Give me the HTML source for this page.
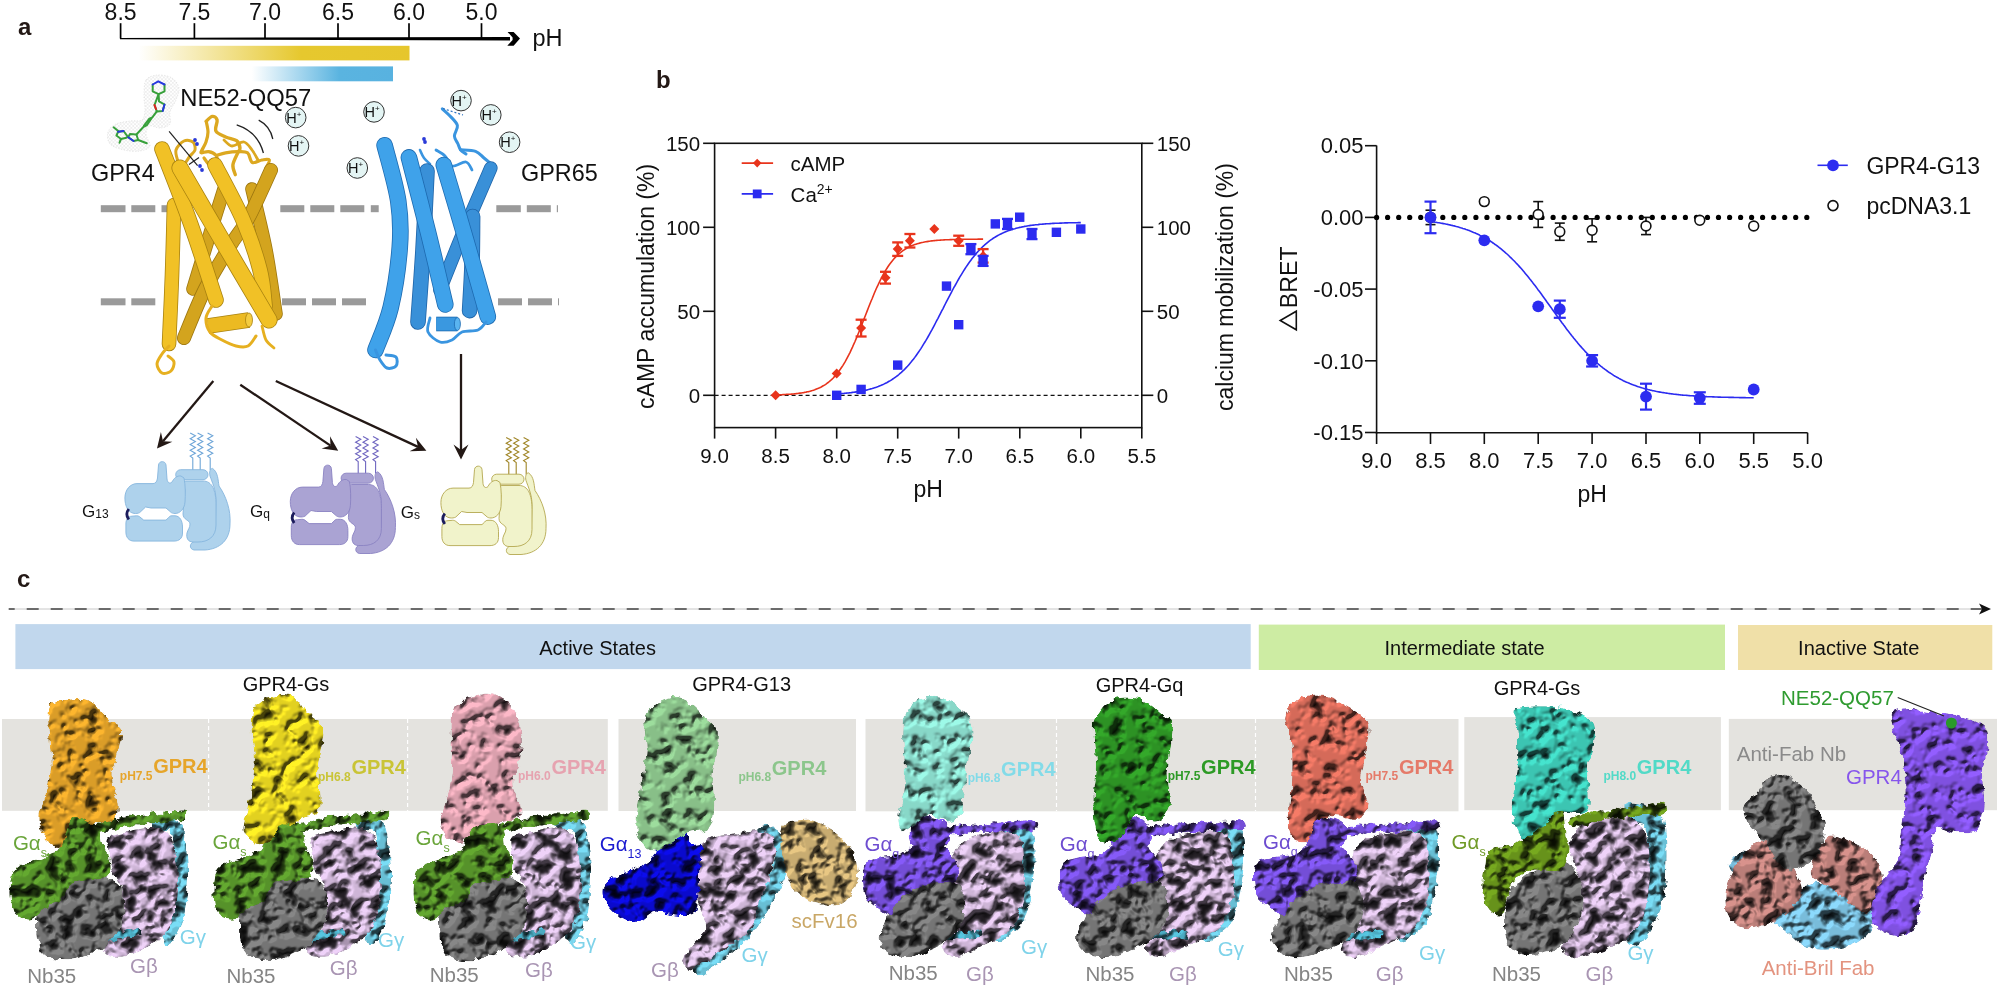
<!DOCTYPE html><html><head><meta charset="utf-8"><style>html,body{margin:0;padding:0;background:#fff;width:2000px;height:989px;overflow:hidden}svg{display:block;will-change:transform}text{font-family:"Liberation Sans",sans-serif}</style></head><body><svg width="2000" height="989" viewBox="0 0 2000 989"><defs><linearGradient id="gy" x1="0" x2="1" y1="0" y2="0"><stop offset="0" stop-color="#fff"/><stop offset="0.6" stop-color="#e6c82e"/><stop offset="1" stop-color="#e6c62c"/></linearGradient><linearGradient id="gb" x1="0" x2="1" y1="0" y2="0"><stop offset="0" stop-color="#fff"/><stop offset="0.62" stop-color="#5ab4e0"/><stop offset="1" stop-color="#58b2e0"/></linearGradient><marker id="ah" viewBox="0 0 10 10" refX="9" refY="5" markerWidth="6" markerHeight="6" orient="auto"><path d="M0,0 L10,5 L0,10 L3,5 Z" fill="#111"/></marker><filter id="tex" x="-10%" y="-10%" width="120%" height="120%" color-interpolation-filters="sRGB"><feTurbulence type="fractalNoise" baseFrequency="0.14" numOctaves="2" seed="3" result="n"/><feDisplacementMap in="SourceGraphic" in2="n" scale="7" xChannelSelector="R" yChannelSelector="G" result="d"/><feTurbulence type="fractalNoise" baseFrequency="0.08" numOctaves="3" seed="11" result="b"/><feComponentTransfer in="b" result="bt"><feFuncA type="discrete" tableValues="0 0 0.15 0.7 1 1 1 1"/></feComponentTransfer><feGaussianBlur in="bt" stdDeviation="1.2" result="bb"/><feDiffuseLighting in="bb" surfaceScale="6" diffuseConstant="1.15" lighting-color="#fff" result="L"><feDistantLight azimuth="235" elevation="45"/></feDiffuseLighting><feComposite in="d" in2="L" operator="arithmetic" k1="0.8" k2="0.3" k3="0" k4="0" result="lit"/><feColorMatrix in="bb" type="matrix" values="0 0 0 0 0  0 0 0 0 0  0 0 0 0 0  0 0 0 -1.6 0.9" result="holes"/><feComposite in="holes" in2="d" operator="in" result="hm"/><feComposite in="lit" in2="d" operator="in" result="lit2"/><feMerge><feMergeNode in="lit2"/><feMergeNode in="hm"/></feMerge></filter><filter id="texl" x="-10%" y="-10%" width="120%" height="120%" color-interpolation-filters="sRGB"><feTurbulence type="fractalNoise" baseFrequency="0.14" numOctaves="2" seed="3" result="n"/><feDisplacementMap in="SourceGraphic" in2="n" scale="7" xChannelSelector="R" yChannelSelector="G" result="d"/><feTurbulence type="fractalNoise" baseFrequency="0.08" numOctaves="3" seed="13" result="b"/><feComponentTransfer in="b" result="bt"><feFuncA type="discrete" tableValues="0 0.1 0.45 0.9 1 1 1 1"/></feComponentTransfer><feGaussianBlur in="bt" stdDeviation="1.2" result="bb"/><feDiffuseLighting in="bb" surfaceScale="6" diffuseConstant="1.15" lighting-color="#fff" result="L"><feDistantLight azimuth="235" elevation="45"/></feDiffuseLighting><feComposite in="d" in2="L" operator="arithmetic" k1="0.8" k2="0.3" k3="0" k4="0" result="lit"/><feColorMatrix in="bb" type="matrix" values="0 0 0 0 0  0 0 0 0 0  0 0 0 0 0  0 0 0 -1.6 0.9" result="holes"/><feComposite in="holes" in2="d" operator="in" result="hm"/><feComposite in="lit" in2="d" operator="in" result="lit2"/><feMerge><feMergeNode in="lit2"/><feMergeNode in="hm"/></feMerge></filter><filter id="texd" x="-10%" y="-10%" width="120%" height="120%" color-interpolation-filters="sRGB"><feTurbulence type="fractalNoise" baseFrequency="0.14" numOctaves="2" seed="3" result="n"/><feDisplacementMap in="SourceGraphic" in2="n" scale="7" xChannelSelector="R" yChannelSelector="G" result="d"/><feTurbulence type="fractalNoise" baseFrequency="0.08" numOctaves="3" seed="12" result="b"/><feComponentTransfer in="b" result="bt"><feFuncA type="discrete" tableValues="0 0 0.05 0.45 0.9 1 1 1"/></feComponentTransfer><feGaussianBlur in="bt" stdDeviation="1.2" result="bb"/><feDiffuseLighting in="bb" surfaceScale="6" diffuseConstant="1.15" lighting-color="#fff" result="L"><feDistantLight azimuth="235" elevation="45"/></feDiffuseLighting><feComposite in="d" in2="L" operator="arithmetic" k1="0.8" k2="0.3" k3="0" k4="0" result="lit"/><feColorMatrix in="bb" type="matrix" values="0 0 0 0 0  0 0 0 0 0  0 0 0 0 0  0 0 0 -1.6 0.9" result="holes"/><feComposite in="holes" in2="d" operator="in" result="hm"/><feComposite in="lit" in2="d" operator="in" result="lit2"/><feMerge><feMergeNode in="lit2"/><feMergeNode in="hm"/></feMerge></filter></defs><text x="18.0" y="35.0" font-size="24" text-anchor="start" fill="#231815" font-weight="bold" >a</text><path d="M120,37.9 L510,36.9 L510,40.4 L120,39.3 Z" fill="#000"/><path d="M507.6,31.9 L513.6,31.9 L520,38.6 L513.6,45.7 L507.3,45.7 L512.6,39.9 L512.6,37.6 Z" fill="#000"/><line x1="120.6" y1="23.2" x2="120.6" y2="38.5" stroke="#000" stroke-width="1.7" /><text x="120.6" y="19.6" font-size="23" text-anchor="middle" fill="#111" font-weight="normal" >8.5</text><line x1="194.4" y1="23.2" x2="194.4" y2="38.5" stroke="#000" stroke-width="1.7" /><text x="194.4" y="19.6" font-size="23" text-anchor="middle" fill="#111" font-weight="normal" >7.5</text><line x1="265.0" y1="23.2" x2="265.0" y2="38.5" stroke="#000" stroke-width="1.7" /><text x="265.0" y="19.6" font-size="23" text-anchor="middle" fill="#111" font-weight="normal" >7.0</text><line x1="338.0" y1="23.2" x2="338.0" y2="38.5" stroke="#000" stroke-width="1.7" /><text x="338.0" y="19.6" font-size="23" text-anchor="middle" fill="#111" font-weight="normal" >6.5</text><line x1="409.0" y1="23.2" x2="409.0" y2="38.5" stroke="#000" stroke-width="1.7" /><text x="409.0" y="19.6" font-size="23" text-anchor="middle" fill="#111" font-weight="normal" >6.0</text><line x1="481.5" y1="23.2" x2="481.5" y2="38.5" stroke="#000" stroke-width="1.7" /><text x="481.5" y="19.6" font-size="23" text-anchor="middle" fill="#111" font-weight="normal" >5.0</text><text x="532.5" y="45.7" font-size="23.5" text-anchor="start" fill="#111" font-weight="normal" >pH</text><rect x="138.5" y="45.8" width="271" height="14.6" fill="url(#gy)"/><rect x="251.8" y="66.4" width="141.2" height="14.9" fill="url(#gb)"/><rect x="100.8" y="205.2" width="24.7" height="7" fill="#9a9a9a"/><rect x="131.3" y="205.2" width="24.0" height="7" fill="#9a9a9a"/><rect x="161.5" y="205.2" width="7.7" height="7" fill="#9a9a9a"/><rect x="280.3" y="205.2" width="24.0" height="7" fill="#9a9a9a"/><rect x="310.3" y="205.2" width="24.0" height="7" fill="#9a9a9a"/><rect x="340.3" y="205.2" width="24.0" height="7" fill="#9a9a9a"/><rect x="370.8" y="205.2" width="7.9" height="7" fill="#9a9a9a"/><rect x="496.3" y="205.2" width="24.5" height="7" fill="#9a9a9a"/><rect x="526.8" y="205.2" width="24.0" height="7" fill="#9a9a9a"/><rect x="556.8" y="205.2" width="1.2" height="7" fill="#9a9a9a"/><rect x="100.8" y="298.3" width="24.7" height="7" fill="#9a9a9a"/><rect x="131.3" y="298.3" width="24.0" height="7" fill="#9a9a9a"/><rect x="282" y="298.3" width="24.0" height="7" fill="#9a9a9a"/><rect x="312" y="298.3" width="24.0" height="7" fill="#9a9a9a"/><rect x="342" y="298.3" width="24.0" height="7" fill="#9a9a9a"/><rect x="498" y="298.3" width="24.0" height="7" fill="#9a9a9a"/><rect x="528" y="298.3" width="24.0" height="7" fill="#9a9a9a"/><rect x="558" y="298.3" width="1.0" height="7" fill="#9a9a9a"/><path d="M178.0,162.0 C177.7,160.0 175.0,153.5 176.0,150.0 C177.0,146.5 181.2,142.3 184.0,141.0 C186.8,139.7 191.2,140.5 193.0,142.0 C194.8,143.5 195.5,147.7 195.0,150.0 C194.5,152.3 191.5,154.0 190.0,156.0 C188.5,158.0 186.7,161.0 186.0,162.0" fill="none" stroke="#dca820" stroke-width="3" stroke-linecap="round" stroke-linejoin="round"/><path d="M206.2,121.3 C207.2,120.5 210.5,116.6 212.3,116.4 C214.1,116.2 216.5,117.6 217.1,120.0 C217.7,122.4 214.5,128.2 215.9,131.0 C217.3,133.8 222.2,135.4 225.6,137.0 C229.0,138.6 234.2,138.9 236.6,140.7 C239.0,142.5 239.8,146.0 240.0,148.0 C240.2,150.0 239.0,150.0 237.8,152.8 C236.6,155.6 233.3,161.3 232.9,165.0 C232.5,168.7 234.9,173.1 235.3,174.7" fill="none" stroke="#dca820" stroke-width="3.4" stroke-linecap="round" stroke-linejoin="round"/><path d="M206.2,121.3 C206.5,123.1 208.0,128.6 208.0,132.0 C208.0,135.4 207.0,139.0 206.0,142.0 C205.0,145.0 202.8,148.2 202.0,150.0 C201.2,151.8 200.3,152.5 201.4,152.8 C202.5,153.1 206.2,151.2 208.6,151.6 C211.0,152.0 214.5,153.4 215.9,155.2 C217.3,157.0 218.1,160.9 217.1,162.5 C216.1,164.1 212.2,165.8 210.0,165.0 C207.8,164.2 205.0,159.2 204.0,158.0" fill="none" stroke="#dca820" stroke-width="3.2" stroke-linecap="round" stroke-linejoin="round"/><path d="M217.1,155.2 C218.5,154.8 222.1,153.4 225.6,152.8 C229.1,152.2 234.2,151.6 237.8,151.6 C241.5,151.6 245.1,151.0 247.5,152.8 C249.9,154.6 249.9,161.3 252.3,162.5 C254.7,163.7 259.2,160.4 262.0,160.0 C264.8,159.6 268.6,158.7 269.3,160.0 C270.0,161.3 266.6,166.7 266.0,168.0" fill="none" stroke="#dca820" stroke-width="3.2" stroke-linecap="round" stroke-linejoin="round"/><path d="M224.0,140.0 C225.3,141.0 228.7,145.7 232.0,146.0 C235.3,146.3 240.7,141.3 244.0,142.0 C247.3,142.7 249.7,147.0 252.0,150.0 C254.3,153.0 257.0,158.3 258.0,160.0" fill="none" stroke="#dca820" stroke-width="2.8" stroke-linecap="round" stroke-linejoin="round"/><path d="M224.0,189.0 C221.3,197.5 213.2,223.3 208.0,240.0 C202.8,256.7 195.5,280.8 193.0,289.0" fill="none" stroke="#9c7610" stroke-width="13.6" stroke-linecap="round" stroke-linejoin="round"/><path d="M224.0,189.0 C221.3,197.5 213.2,223.3 208.0,240.0 C202.8,256.7 195.5,280.8 193.0,289.0" fill="none" stroke="#d3a41e" stroke-width="12" stroke-linecap="round" stroke-linejoin="round"/><path d="M252.0,189.0 C254.3,199.2 262.0,229.2 266.0,250.0 C270.0,270.8 274.3,303.3 276.0,314.0" fill="none" stroke="#9c7610" stroke-width="13.6" stroke-linecap="round" stroke-linejoin="round"/><path d="M252.0,189.0 C254.3,199.2 262.0,229.2 266.0,250.0 C270.0,270.8 274.3,303.3 276.0,314.0" fill="none" stroke="#d3a41e" stroke-width="12" stroke-linecap="round" stroke-linejoin="round"/><path d="M271.0,170.0 C267.3,177.8 255.8,204.3 249.0,217.0 C242.2,229.7 237.3,234.0 230.0,246.0 C222.7,258.0 212.7,273.7 205.0,289.0 C197.3,304.3 187.5,329.8 184.0,338.0" fill="none" stroke="#9c7610" stroke-width="14.1" stroke-linecap="round" stroke-linejoin="round"/><path d="M271.0,170.0 C267.3,177.8 255.8,204.3 249.0,217.0 C242.2,229.7 237.3,234.0 230.0,246.0 C222.7,258.0 212.7,273.7 205.0,289.0 C197.3,304.3 187.5,329.8 184.0,338.0" fill="none" stroke="#d3a41e" stroke-width="12.5" stroke-linecap="round" stroke-linejoin="round"/><path d="M174.0,205.0 C173.7,216.7 172.8,251.8 172.0,275.0 C171.2,298.2 169.5,332.5 169.0,344.0" fill="none" stroke="#a88210" stroke-width="14.6" stroke-linecap="round" stroke-linejoin="round"/><path d="M174.0,205.0 C173.7,216.7 172.8,251.8 172.0,275.0 C171.2,298.2 169.5,332.5 169.0,344.0" fill="none" stroke="#f1c126" stroke-width="13" stroke-linecap="round" stroke-linejoin="round"/><path d="M162.0,149.0 C166.7,161.2 181.0,196.8 190.0,222.0 C199.0,247.2 211.7,287.0 216.0,300.0" fill="none" stroke="#a88210" stroke-width="15.6" stroke-linecap="round" stroke-linejoin="round"/><path d="M162.0,149.0 C166.7,161.2 181.0,196.8 190.0,222.0 C199.0,247.2 211.7,287.0 216.0,300.0" fill="none" stroke="#f1c126" stroke-width="14" stroke-linecap="round" stroke-linejoin="round"/><path d="M215.0,165.0 C219.7,174.2 235.5,202.5 243.0,220.0 C250.5,237.5 256.3,255.7 260.0,270.0 C263.7,284.3 264.2,300.0 265.0,306.0" fill="none" stroke="#a88210" stroke-width="15.6" stroke-linecap="round" stroke-linejoin="round"/><path d="M215.0,165.0 C219.7,174.2 235.5,202.5 243.0,220.0 C250.5,237.5 256.3,255.7 260.0,270.0 C263.7,284.3 264.2,300.0 265.0,306.0" fill="none" stroke="#f1c126" stroke-width="14" stroke-linecap="round" stroke-linejoin="round"/><path d="M180.0,168.0 C187.7,181.2 211.2,221.7 226.0,247.0 C240.8,272.3 261.8,307.8 269.0,320.0" fill="none" stroke="#a88210" stroke-width="17.1" stroke-linecap="round" stroke-linejoin="round"/><path d="M180.0,168.0 C187.7,181.2 211.2,221.7 226.0,247.0 C240.8,272.3 261.8,307.8 269.0,320.0" fill="none" stroke="#f1c126" stroke-width="15.5" stroke-linecap="round" stroke-linejoin="round"/><path d="M208.0,326.0 L249.0,320.0" fill="none" stroke="#a88210" stroke-width="15.6" stroke-linecap="butt" stroke-linejoin="round"/><path d="M208.0,326.0 L249.0,320.0" fill="none" stroke="#ecba22" stroke-width="14" stroke-linecap="butt" stroke-linejoin="round"/><ellipse cx="249" cy="320" rx="3.5" ry="7" fill="#f4cc40" stroke="#a88210" stroke-width="0.8"/><path d="M169.0,346.0 C167.8,347.3 164.0,351.0 162.0,354.0 C160.0,357.0 157.0,360.8 157.0,364.0 C157.0,367.2 159.7,371.8 162.0,373.0 C164.3,374.2 169.0,372.8 171.0,371.0 C173.0,369.2 174.5,364.5 174.0,362.0 C173.5,359.5 169.0,357.0 168.0,356.0" fill="none" stroke="#e6b020" stroke-width="3" stroke-linecap="round" stroke-linejoin="round"/><path d="M212.0,306.0 C211.0,308.0 206.3,313.7 206.0,318.0 C205.7,322.3 207.3,328.3 210.0,332.0 C212.7,335.7 217.7,337.7 222.0,340.0 C226.3,342.3 231.7,345.0 236.0,346.0 C240.3,347.0 244.7,347.7 248.0,346.0 C251.3,344.3 254.7,337.7 256.0,336.0" fill="none" stroke="#e6b020" stroke-width="3" stroke-linecap="round" stroke-linejoin="round"/><path d="M262.0,326.0 C262.7,328.3 264.0,336.3 266.0,340.0 C268.0,343.7 272.7,346.7 274.0,348.0" fill="none" stroke="#e6b020" stroke-width="2.8" stroke-linecap="round" stroke-linejoin="round"/><circle cx="195" cy="140" r="1.9" fill="#2a3ad8"/><circle cx="197" cy="144" r="1.9" fill="#2a3ad8"/><circle cx="200" cy="166" r="1.9" fill="#2a3ad8"/><circle cx="202" cy="170" r="1.9" fill="#2a3ad8"/><defs><pattern id="mesh" width="3.6" height="3.6" patternUnits="userSpaceOnUse"><path d="M0,0 L3.6,3.6 M3.6,0 L0,3.6" stroke="#d4d4d4" stroke-width="0.35"/></pattern></defs><path d="M146.0,80.0 C148.3,76.5 153.7,75.3 158.0,75.0 C162.3,74.7 168.5,75.8 172.0,78.0 C175.5,80.2 178.3,84.3 179.0,88.0 C179.7,91.7 177.5,96.0 176.0,100.0 C174.5,104.0 171.0,108.0 170.0,112.0 C169.0,116.0 171.7,121.3 170.0,124.0 C168.3,126.7 163.3,127.7 160.0,128.0 C156.7,128.3 152.3,125.0 150.0,126.0 C147.7,127.0 146.0,130.7 146.0,134.0 C146.0,137.3 151.0,143.2 150.0,146.0 C149.0,148.8 144.3,150.3 140.0,151.0 C135.7,151.7 129.0,151.2 124.0,150.0 C119.0,148.8 112.7,147.0 110.0,144.0 C107.3,141.0 107.0,135.3 108.0,132.0 C109.0,128.7 112.3,125.8 116.0,124.0 C119.7,122.2 125.7,121.7 130.0,121.0 C134.3,120.3 139.5,121.8 142.0,120.0 C144.5,118.2 144.7,114.0 145.0,110.0 C145.3,106.0 143.8,101.0 144.0,96.0 C144.2,91.0 143.7,83.5 146.0,80.0 Z" fill="url(#mesh)" stroke="#cfcfcf" stroke-width="0.5" stroke-dasharray="1.2,1.6"/><g fill="none" stroke="#37a03a" stroke-width="2" stroke-linejoin="round" stroke-linecap="round"><path d="M152.7,84.5 L152.7,91.4 L158.6,94.1 L164.5,91.4 L164.5,84.5"/><path d="M158.6,94.1 L159,101.4 L164.5,104.5 L162.7,110.9 L156.8,111.4 L154.5,105 Z"/><path d="M156.8,111.4 L152.3,117.3 L149,119 L144,125.5 L143.6,126.8 L147,125 L152.3,117.3 M143.6,126.8 L136.4,134.5"/><path d="M136.4,134.5 L138.2,140 L133.6,141 L128.2,137.3 L130,134 Z M128.2,137.3 L123.6,131 L118.2,131.8 L116.4,135.5 L121,139 L126.4,137.7"/><path d="M113.6,127.3 L118.2,131 M121,139 L119.5,142.7 M138.2,140 L146.8,143.2"/></g><g fill="none" stroke="#2838e0" stroke-width="2" stroke-linecap="round"><path d="M152.7,84.5 L158.2,81.4 L164.5,84.5"/><path d="M164.5,104.5 L162.7,110.9"/><path d="M133.6,141 L128.2,137.3"/><path d="M118.2,131.8 L123.6,131"/></g><path d="M154.5,105 L156,109" stroke="#e02020" stroke-width="2" stroke-linecap="round"/><line x1="169.1" y1="131.4" x2="197.6" y2="165.6" stroke="#222" stroke-width="1.2" /><line x1="189.0" y1="164.5" x2="199.0" y2="157.5" stroke="#222" stroke-width="1.2" /><path d="M236.7,124.9 Q258,132 263.4,153" fill="none" stroke="#222" stroke-width="1.3"/><path d="M258.7,120.2 Q270,126 272.8,139" fill="none" stroke="#222" stroke-width="1.3"/><path d="M442.3,108.8 C443.6,110.0 447.5,113.2 450.0,116.0 C452.5,118.8 456.7,122.2 457.4,125.5 C458.1,128.8 454.3,132.9 454.4,136.0 C454.5,139.1 457.0,141.7 458.0,144.0 C459.0,146.3 459.2,148.1 460.5,149.8 C461.8,151.5 465.1,153.3 466.0,154.0" fill="none" stroke="#3a95e0" stroke-width="3" stroke-linecap="round" stroke-linejoin="round"/><line x1="443" y1="108.5" x2="463" y2="115" stroke="#2a70c0" stroke-width="1.2" stroke-dasharray="2,2"/><path d="M460.5,149.8 C463.0,150.1 471.7,149.9 475.6,151.3 C479.5,152.7 481.2,155.7 484.0,158.0 C486.8,160.3 490.9,163.8 492.3,165.0" fill="none" stroke="#3a95e0" stroke-width="3" stroke-linecap="round" stroke-linejoin="round"/><path d="M436.0,150.0 C437.5,151.0 442.3,153.3 445.0,156.0 C447.7,158.7 448.5,165.0 452.0,166.0 C455.5,167.0 462.7,161.3 466.0,162.0 C469.3,162.7 471.0,168.7 472.0,170.0" fill="none" stroke="#3a95e0" stroke-width="2.8" stroke-linecap="round" stroke-linejoin="round"/><path d="M420.0,150.0 C420.7,151.3 422.3,155.7 424.0,158.0 C425.7,160.3 429.0,163.0 430.0,164.0" fill="none" stroke="#3a95e0" stroke-width="2.6" stroke-linecap="round" stroke-linejoin="round"/><path d="M427.0,171.0 C426.3,184.2 424.5,224.8 423.0,250.0 C421.5,275.2 418.8,310.0 418.0,322.0" fill="none" stroke="#1f64a8" stroke-width="15.6" stroke-linecap="round" stroke-linejoin="round"/><path d="M427.0,171.0 C426.3,184.2 424.5,224.8 423.0,250.0 C421.5,275.2 418.8,310.0 418.0,322.0" fill="none" stroke="#3990d8" stroke-width="14" stroke-linecap="round" stroke-linejoin="round"/><path d="M490.8,168.0 C486.2,178.6 472.0,211.4 463.5,231.7 C455.0,252.0 443.9,280.3 440.0,290.0" fill="none" stroke="#1f64a8" stroke-width="13.6" stroke-linecap="round" stroke-linejoin="round"/><path d="M490.8,168.0 C486.2,178.6 472.0,211.4 463.5,231.7 C455.0,252.0 443.9,280.3 440.0,290.0" fill="none" stroke="#3990d8" stroke-width="12" stroke-linecap="round" stroke-linejoin="round"/><path d="M472.6,216.5 C472.5,224.6 472.5,249.3 472.0,265.0 C471.5,280.7 470.0,303.0 469.6,310.6" fill="none" stroke="#1f64a8" stroke-width="15.6" stroke-linecap="round" stroke-linejoin="round"/><path d="M472.6,216.5 C472.5,224.6 472.5,249.3 472.0,265.0 C471.5,280.7 470.0,303.0 469.6,310.6" fill="none" stroke="#3990d8" stroke-width="14" stroke-linecap="round" stroke-linejoin="round"/><path d="M384.6,145.2 C386.9,154.6 395.8,184.4 398.3,201.4 C400.8,218.4 401.1,229.2 399.8,246.9 C398.5,264.6 394.8,290.3 390.7,307.5 C386.6,324.7 378.0,342.9 375.5,350.0" fill="none" stroke="#1d6ab0" stroke-width="16.6" stroke-linecap="round" stroke-linejoin="round"/><path d="M384.6,145.2 C386.9,154.6 395.8,184.4 398.3,201.4 C400.8,218.4 401.1,229.2 399.8,246.9 C398.5,264.6 394.8,290.3 390.7,307.5 C386.6,324.7 378.0,342.9 375.5,350.0" fill="none" stroke="#3fa2ea" stroke-width="15" stroke-linecap="round" stroke-linejoin="round"/><path d="M408.9,157.4 C412.1,169.8 421.9,207.5 428.0,232.0 C434.1,256.5 442.4,292.4 445.3,304.5" fill="none" stroke="#1d6ab0" stroke-width="16.6" stroke-linecap="round" stroke-linejoin="round"/><path d="M408.9,157.4 C412.1,169.8 421.9,207.5 428.0,232.0 C434.1,256.5 442.4,292.4 445.3,304.5" fill="none" stroke="#3fa2ea" stroke-width="15" stroke-linecap="round" stroke-linejoin="round"/><path d="M443.8,165.0 C447.5,177.5 458.7,214.7 466.0,240.0 C473.3,265.3 484.2,303.8 487.8,316.6" fill="none" stroke="#1d6ab0" stroke-width="16.6" stroke-linecap="round" stroke-linejoin="round"/><path d="M443.8,165.0 C447.5,177.5 458.7,214.7 466.0,240.0 C473.3,265.3 484.2,303.8 487.8,316.6" fill="none" stroke="#3fa2ea" stroke-width="15" stroke-linecap="round" stroke-linejoin="round"/><path d="M436.2,324.0 L457.4,324.0" fill="none" stroke="#1d6ab0" stroke-width="14.6" stroke-linecap="butt" stroke-linejoin="round"/><path d="M436.2,324.0 L457.4,324.0" fill="none" stroke="#3a98e0" stroke-width="13" stroke-linecap="butt" stroke-linejoin="round"/><ellipse cx="457.4" cy="324" rx="3" ry="6.5" fill="#5ab4f0" stroke="#1d6ab0" stroke-width="0.8"/><path d="M375.5,350.0 C376.2,351.7 378.1,357.0 380.0,360.0 C381.9,363.0 384.3,367.0 387.0,368.0 C389.7,369.0 394.5,367.8 396.0,366.0 C397.5,364.2 397.7,358.8 396.0,357.0 C394.3,355.2 387.7,355.3 386.0,355.0" fill="none" stroke="#3a95e0" stroke-width="3" stroke-linecap="round" stroke-linejoin="round"/><path d="M430.0,318.0 C429.7,320.3 426.3,328.0 428.0,332.0 C429.7,336.0 436.0,340.7 440.0,342.0 C444.0,343.3 448.3,341.7 452.0,340.0 C455.7,338.3 457.7,333.7 462.0,332.0 C466.3,330.3 474.0,331.7 478.0,330.0 C482.0,328.3 484.7,323.3 486.0,322.0" fill="none" stroke="#3a95e0" stroke-width="2.8" stroke-linecap="round" stroke-linejoin="round"/><circle cx="424" cy="139" r="1.9" fill="#2a3ad8"/><circle cx="425" cy="142" r="1.9" fill="#2a3ad8"/><circle cx="295.7" cy="117.6" r="10.3" fill="#e4f5f4" stroke="#333" stroke-width="1"/><text x="293.9" y="122.8" font-size="14.5" text-anchor="middle" fill="#111">H<tspan font-size="8" dy="-6">+</tspan></text><circle cx="298.5" cy="145.9" r="10.3" fill="#e4f5f4" stroke="#333" stroke-width="1"/><text x="296.7" y="151.1" font-size="14.5" text-anchor="middle" fill="#111">H<tspan font-size="8" dy="-6">+</tspan></text><circle cx="374" cy="111.9" r="10.3" fill="#e4f5f4" stroke="#333" stroke-width="1"/><text x="372.2" y="117.1" font-size="14.5" text-anchor="middle" fill="#111">H<tspan font-size="8" dy="-6">+</tspan></text><circle cx="357.3" cy="168" r="10.3" fill="#e4f5f4" stroke="#333" stroke-width="1"/><text x="355.5" y="173.2" font-size="14.5" text-anchor="middle" fill="#111">H<tspan font-size="8" dy="-6">+</tspan></text><circle cx="461" cy="100.6" r="10.3" fill="#e4f5f4" stroke="#333" stroke-width="1"/><text x="459.2" y="105.8" font-size="14.5" text-anchor="middle" fill="#111">H<tspan font-size="8" dy="-6">+</tspan></text><circle cx="490.8" cy="114.9" r="10.3" fill="#e4f5f4" stroke="#333" stroke-width="1"/><text x="489.0" y="120.1" font-size="14.5" text-anchor="middle" fill="#111">H<tspan font-size="8" dy="-6">+</tspan></text><circle cx="509.6" cy="142.2" r="10.3" fill="#e4f5f4" stroke="#333" stroke-width="1"/><text x="507.8" y="147.4" font-size="14.5" text-anchor="middle" fill="#111">H<tspan font-size="8" dy="-6">+</tspan></text><text x="91.0" y="181.3" font-size="23.4" text-anchor="start" fill="#111" font-weight="normal" >GPR4</text><text x="180.3" y="105.5" font-size="23.8" text-anchor="start" fill="#111" font-weight="normal" >NE52-QQ57</text><text x="521.0" y="180.7" font-size="23.4" text-anchor="start" fill="#111" font-weight="normal" >GPR65</text><line x1="213.3" y1="381.0" x2="163.0" y2="441.3" stroke="#231815" stroke-width="2.3" /><path d="M157.0,448.4 L160.9,432.1 L163.0,441.3 L172.4,441.7 Z" fill="#231815"/><line x1="240.3" y1="384.7" x2="330.5" y2="445.6" stroke="#231815" stroke-width="2.3" /><path d="M338.2,450.8 L321.6,448.6 L330.5,445.6 L330.0,436.2 Z" fill="#231815"/><line x1="275.8" y1="381.0" x2="418.0" y2="446.9" stroke="#231815" stroke-width="2.3" /><path d="M426.4,450.8 L409.6,451.3 L418.0,446.9 L415.9,437.7 Z" fill="#231815"/><line x1="461.0" y1="354.0" x2="461.0" y2="450.1" stroke="#231815" stroke-width="2.3" /><path d="M461.0,459.4 L453.5,444.4 L461.0,450.1 L468.5,444.4 Z" fill="#231815"/><polyline points="190.2,432.9 195.4,435.8 190.2,438.7 195.4,441.6 190.2,444.5 195.4,447.4 190.2,450.3 195.4,453.2 190.2,456.1 192.8,458.0 192.8,470.0" fill="none" stroke="#6fa6d8" stroke-width="1.1"/><polyline points="197.6,432.9 202.8,435.8 197.6,438.7 202.8,441.6 197.6,444.5 202.8,447.4 197.6,450.3 202.8,453.2 197.6,456.1 200.2,458.0 200.2,470.0" fill="none" stroke="#6fa6d8" stroke-width="1.1"/><polyline points="207.6,432.9 212.8,435.8 207.6,438.7 212.8,441.6 207.6,444.5 212.8,447.4 207.6,450.3 212.8,453.2 207.6,456.1 210.2,458.0 210.2,470.0" fill="none" stroke="#6fa6d8" stroke-width="1.1"/><path d="M212.5,468.4 C218.0,472.0 218.0,480.0 219.0,486.0 C226.0,496.0 231.0,510.0 230.0,524.0 C230.0,540.0 220.0,549.0 205.0,550.0 L194.0,550.0 C189.0,549.0 189.0,543.0 195.0,541.0 C206.0,539.0 214.0,533.0 215.5,520.0 L216.0,500.0 C216.0,490.0 212.0,482.0 210.0,476.0 C209.0,472.0 210.0,468.5 212.5,468.4 Z" fill="#aed2ec" stroke="#86b6de" stroke-width="0.9"/><path d="M186.0,481.0 L203.0,481.0 C212.0,481.0 216.0,490.0 216.0,505.0 L216.0,525.0 C216.0,537.0 208.0,542.0 198.0,542.0 L193.0,542.0 C188.0,542.0 186.0,538.0 187.0,533.0 C188.0,529.0 190.0,528.0 190.0,524.0 C190.0,520.0 183.0,520.0 183.0,514.0 L184.0,500.0 C184.0,494.0 186.0,491.0 184.0,487.0 C183.0,484.0 183.0,481.0 186.0,481.0 Z" fill="#aed2ec" stroke="#86b6de" stroke-width="0.9"/><rect x="175.7" y="469.7" width="32.3" height="10" rx="5" fill="#aed2ec" stroke="#86b6de" stroke-width="0.9"/><path d="M137.0,483.6 L153.0,483.6 C156.0,483.6 157.0,481.0 157.5,478.0 L158.5,465.0 C159.0,460.5 165.5,460.5 166.0,465.0 L167.0,479.0 C167.5,483.0 170.0,484.0 172.0,482.0 C174.0,478.0 177.0,475.5 181.0,476.0 L184.0,478.0 C185.5,485.0 185.5,495.0 185.0,502.0 C184.5,509.0 180.0,513.5 175.0,513.5 C173.0,513.5 172.0,513.0 171.3,512.6 L166.0,508.0 L151.0,508.0 L145.6,507.0 L139.7,512.6 C138.0,513.5 136.0,513.6 134.0,513.4 C128.0,512.5 124.9,506.0 124.9,498.0 C124.9,490.0 130.0,483.6 137.0,483.6 Z" fill="#aed2ec" stroke="#86b6de" stroke-width="0.9"/><path d="M132.0,516.2 L136.4,515.8 C138.0,515.8 139.0,516.2 139.7,516.8 L143.7,520.1 L166.0,520.1 L168.7,517.5 C169.5,516.3 170.5,515.8 172.0,515.8 L175.0,515.8 C180.0,516.0 182.5,521.0 182.5,527.0 L182.5,533.0 C182.5,538.5 179.0,541.1 174.0,541.1 L134.0,541.1 C129.0,541.1 125.9,537.5 125.9,532.0 L125.9,524.0 C125.9,519.0 128.0,516.2 132.0,516.2 Z" fill="#aed2ec" stroke="#86b6de" stroke-width="0.9"/><path d="M128.8,509.0 Q124.8,514.0 128.8,519.5" fill="none" stroke="#1c1c5c" stroke-width="2.8"/><polyline points="355.6,436.4 360.8,439.3 355.6,442.2 360.8,445.1 355.6,448.0 360.8,450.9 355.6,453.8 360.8,456.7 355.6,459.6 358.2,461.5 358.2,473.5" fill="none" stroke="#6f66c0" stroke-width="1.1"/><polyline points="363.0,436.4 368.2,439.3 363.0,442.2 368.2,445.1 363.0,448.0 368.2,450.9 363.0,453.8 368.2,456.7 363.0,459.6 365.6,461.5 365.6,473.5" fill="none" stroke="#6f66c0" stroke-width="1.1"/><polyline points="373.0,436.4 378.2,439.3 373.0,442.2 378.2,445.1 373.0,448.0 378.2,450.9 373.0,453.8 378.2,456.7 373.0,459.6 375.6,461.5 375.6,473.5" fill="none" stroke="#6f66c0" stroke-width="1.1"/><path d="M377.9,471.9 C383.4,475.5 383.4,483.5 384.4,489.5 C391.4,499.5 396.4,513.5 395.4,527.5 C395.4,543.5 385.4,552.5 370.4,553.5 L359.4,553.5 C354.4,552.5 354.4,546.5 360.4,544.5 C371.4,542.5 379.4,536.5 380.9,523.5 L381.4,503.5 C381.4,493.5 377.4,485.5 375.4,479.5 C374.4,475.5 375.4,472.0 377.9,471.9 Z" fill="#aaa3d3" stroke="#8a82c2" stroke-width="0.9"/><path d="M351.4,484.5 L368.4,484.5 C377.4,484.5 381.4,493.5 381.4,508.5 L381.4,528.5 C381.4,540.5 373.4,545.5 363.4,545.5 L358.4,545.5 C353.4,545.5 351.4,541.5 352.4,536.5 C353.4,532.5 355.4,531.5 355.4,527.5 C355.4,523.5 348.4,523.5 348.4,517.5 L349.4,503.5 C349.4,497.5 351.4,494.5 349.4,490.5 C348.4,487.5 348.4,484.5 351.4,484.5 Z" fill="#aaa3d3" stroke="#8a82c2" stroke-width="0.9"/><rect x="341.1" y="473.2" width="32.3" height="10" rx="5" fill="#aaa3d3" stroke="#8a82c2" stroke-width="0.9"/><path d="M302.4,487.1 L318.4,487.1 C321.4,487.1 322.4,484.5 322.9,481.5 L323.9,468.5 C324.4,464.0 330.9,464.0 331.4,468.5 L332.4,482.5 C332.9,486.5 335.4,487.5 337.4,485.5 C339.4,481.5 342.4,479.0 346.4,479.5 L349.4,481.5 C350.9,488.5 350.9,498.5 350.4,505.5 C349.9,512.5 345.4,517.0 340.4,517.0 C338.4,517.0 337.4,516.5 336.7,516.1 L331.4,511.5 L316.4,511.5 L311.0,510.5 L305.1,516.1 C303.4,517.0 301.4,517.1 299.4,516.9 C293.4,516.0 290.3,509.5 290.3,501.5 C290.3,493.5 295.4,487.1 302.4,487.1 Z" fill="#aaa3d3" stroke="#8a82c2" stroke-width="0.9"/><path d="M297.4,519.7 L301.8,519.3 C303.4,519.3 304.4,519.7 305.1,520.3 L309.1,523.6 L331.4,523.6 L334.1,521.0 C334.9,519.8 335.9,519.3 337.4,519.3 L340.4,519.3 C345.4,519.5 347.9,524.5 347.9,530.5 L347.9,536.5 C347.9,542.0 344.4,544.6 339.4,544.6 L299.4,544.6 C294.4,544.6 291.3,541.0 291.3,535.5 L291.3,527.5 C291.3,522.5 293.4,519.7 297.4,519.7 Z" fill="#aaa3d3" stroke="#8a82c2" stroke-width="0.9"/><path d="M294.2,512.5 Q290.2,517.5 294.2,523.0" fill="none" stroke="#1c1c5c" stroke-width="2.8"/><polyline points="506.2,437.4 511.4,440.3 506.2,443.2 511.4,446.1 506.2,449.0 511.4,451.9 506.2,454.8 511.4,457.7 506.2,460.6 508.8,462.5 508.8,474.5" fill="none" stroke="#a08628" stroke-width="1.1"/><polyline points="513.6,437.4 518.8,440.3 513.6,443.2 518.8,446.1 513.6,449.0 518.8,451.9 513.6,454.8 518.8,457.7 513.6,460.6 516.2,462.5 516.2,474.5" fill="none" stroke="#a08628" stroke-width="1.1"/><polyline points="523.6,437.4 528.8,440.3 523.6,443.2 528.8,446.1 523.6,449.0 528.8,451.9 523.6,454.8 528.8,457.7 523.6,460.6 526.2,462.5 526.2,474.5" fill="none" stroke="#a08628" stroke-width="1.1"/><path d="M528.5,472.9 C534.0,476.5 534.0,484.5 535.0,490.5 C542.0,500.5 547.0,514.5 546.0,528.5 C546.0,544.5 536.0,553.5 521.0,554.5 L510.0,554.5 C505.0,553.5 505.0,547.5 511.0,545.5 C522.0,543.5 530.0,537.5 531.5,524.5 L532.0,504.5 C532.0,494.5 528.0,486.5 526.0,480.5 C525.0,476.5 526.0,473.0 528.5,472.9 Z" fill="#f1f3cb" stroke="#b4a850" stroke-width="0.9"/><path d="M502.0,485.5 L519.0,485.5 C528.0,485.5 532.0,494.5 532.0,509.5 L532.0,529.5 C532.0,541.5 524.0,546.5 514.0,546.5 L509.0,546.5 C504.0,546.5 502.0,542.5 503.0,537.5 C504.0,533.5 506.0,532.5 506.0,528.5 C506.0,524.5 499.0,524.5 499.0,518.5 L500.0,504.5 C500.0,498.5 502.0,495.5 500.0,491.5 C499.0,488.5 499.0,485.5 502.0,485.5 Z" fill="#f1f3cb" stroke="#b4a850" stroke-width="0.9"/><rect x="491.7" y="474.2" width="32.3" height="10" rx="5" fill="#f1f3cb" stroke="#b4a850" stroke-width="0.9"/><path d="M453.0,488.1 L469.0,488.1 C472.0,488.1 473.0,485.5 473.5,482.5 L474.5,469.5 C475.0,465.0 481.5,465.0 482.0,469.5 L483.0,483.5 C483.5,487.5 486.0,488.5 488.0,486.5 C490.0,482.5 493.0,480.0 497.0,480.5 L500.0,482.5 C501.5,489.5 501.5,499.5 501.0,506.5 C500.5,513.5 496.0,518.0 491.0,518.0 C489.0,518.0 488.0,517.5 487.3,517.1 L482.0,512.5 L467.0,512.5 L461.6,511.5 L455.7,517.1 C454.0,518.0 452.0,518.1 450.0,517.9 C444.0,517.0 440.9,510.5 440.9,502.5 C440.9,494.5 446.0,488.1 453.0,488.1 Z" fill="#f1f3cb" stroke="#b4a850" stroke-width="0.9"/><path d="M448.0,520.7 L452.4,520.3 C454.0,520.3 455.0,520.7 455.7,521.3 L459.7,524.6 L482.0,524.6 L484.7,522.0 C485.5,520.8 486.5,520.3 488.0,520.3 L491.0,520.3 C496.0,520.5 498.5,525.5 498.5,531.5 L498.5,537.5 C498.5,543.0 495.0,545.6 490.0,545.6 L450.0,545.6 C445.0,545.6 441.9,542.0 441.9,536.5 L441.9,528.5 C441.9,523.5 444.0,520.7 448.0,520.7 Z" fill="#f1f3cb" stroke="#b4a850" stroke-width="0.9"/><path d="M444.8,513.5 Q440.8,518.5 444.8,524.0" fill="none" stroke="#1c1c5c" stroke-width="2.8"/><text x="82" y="516.5" font-size="17" fill="#111">G<tspan font-size="12" dy="1.5">13</tspan></text><text x="250" y="516.5" font-size="17" fill="#111">G<tspan font-size="12" dy="1.5">q</tspan></text><text x="400.7" y="517.5" font-size="17" fill="#111">G<tspan font-size="12" dy="1.5">s</tspan></text><text x="656.0" y="88.0" font-size="24" text-anchor="start" fill="#231815" font-weight="bold" >b</text><rect x="714.6" y="143.3" width="427.2" height="284.3" fill="none" stroke="#111" stroke-width="1.6"/><line x1="703.1" y1="395.3" x2="714.6" y2="395.3" stroke="#111" stroke-width="1.6" /><line x1="1141.8" y1="395.3" x2="1153.3" y2="395.3" stroke="#111" stroke-width="1.6" /><text x="700.1" y="402.5" font-size="20.5" text-anchor="end" fill="#111" font-weight="normal" >0</text><text x="1156.8" y="402.5" font-size="20.5" text-anchor="start" fill="#111" font-weight="normal" >0</text><line x1="703.1" y1="311.3" x2="714.6" y2="311.3" stroke="#111" stroke-width="1.6" /><line x1="1141.8" y1="311.3" x2="1153.3" y2="311.3" stroke="#111" stroke-width="1.6" /><text x="700.1" y="318.5" font-size="20.5" text-anchor="end" fill="#111" font-weight="normal" >50</text><text x="1156.8" y="318.5" font-size="20.5" text-anchor="start" fill="#111" font-weight="normal" >50</text><line x1="703.1" y1="227.3" x2="714.6" y2="227.3" stroke="#111" stroke-width="1.6" /><line x1="1141.8" y1="227.3" x2="1153.3" y2="227.3" stroke="#111" stroke-width="1.6" /><text x="700.1" y="234.5" font-size="20.5" text-anchor="end" fill="#111" font-weight="normal" >100</text><text x="1156.8" y="234.5" font-size="20.5" text-anchor="start" fill="#111" font-weight="normal" >100</text><line x1="703.1" y1="143.3" x2="714.6" y2="143.3" stroke="#111" stroke-width="1.6" /><line x1="1141.8" y1="143.3" x2="1153.3" y2="143.3" stroke="#111" stroke-width="1.6" /><text x="700.1" y="150.5" font-size="20.5" text-anchor="end" fill="#111" font-weight="normal" >150</text><text x="1156.8" y="150.5" font-size="20.5" text-anchor="start" fill="#111" font-weight="normal" >150</text><line x1="714.6" y1="427.6" x2="714.6" y2="438.6" stroke="#111" stroke-width="1.6" /><text x="714.6" y="463.1" font-size="20.5" text-anchor="middle" fill="#111" font-weight="normal" >9.0</text><line x1="775.6" y1="427.6" x2="775.6" y2="438.6" stroke="#111" stroke-width="1.6" /><text x="775.6" y="463.1" font-size="20.5" text-anchor="middle" fill="#111" font-weight="normal" >8.5</text><line x1="836.7" y1="427.6" x2="836.7" y2="438.6" stroke="#111" stroke-width="1.6" /><text x="836.7" y="463.1" font-size="20.5" text-anchor="middle" fill="#111" font-weight="normal" >8.0</text><line x1="897.7" y1="427.6" x2="897.7" y2="438.6" stroke="#111" stroke-width="1.6" /><text x="897.7" y="463.1" font-size="20.5" text-anchor="middle" fill="#111" font-weight="normal" >7.5</text><line x1="958.7" y1="427.6" x2="958.7" y2="438.6" stroke="#111" stroke-width="1.6" /><text x="958.7" y="463.1" font-size="20.5" text-anchor="middle" fill="#111" font-weight="normal" >7.0</text><line x1="1019.8" y1="427.6" x2="1019.8" y2="438.6" stroke="#111" stroke-width="1.6" /><text x="1019.8" y="463.1" font-size="20.5" text-anchor="middle" fill="#111" font-weight="normal" >6.5</text><line x1="1080.8" y1="427.6" x2="1080.8" y2="438.6" stroke="#111" stroke-width="1.6" /><text x="1080.8" y="463.1" font-size="20.5" text-anchor="middle" fill="#111" font-weight="normal" >6.0</text><line x1="1141.8" y1="427.6" x2="1141.8" y2="438.6" stroke="#111" stroke-width="1.6" /><text x="1141.8" y="463.1" font-size="20.5" text-anchor="middle" fill="#111" font-weight="normal" >5.5</text><text x="928.2" y="496.8" font-size="23" text-anchor="middle" fill="#111" font-weight="normal" >pH</text><line x1="714.6" y1="395.3" x2="1141.8" y2="395.3" stroke="#111" stroke-width="1.3" stroke-dasharray="4,3"/><text x="0" y="0" font-size="23" text-anchor="middle" fill="#111" transform="translate(653.5,286.4) rotate(-90)">cAMP accumulation (%)</text><text x="0" y="0" font-size="23" text-anchor="middle" fill="#111" transform="translate(1233,287) rotate(-90)">calcium mobilization (%)</text><path d="M775.6,394.9 L776.9,394.8 L778.1,394.8 L779.3,394.7 L780.5,394.7 L781.7,394.7 L783.0,394.6 L784.2,394.5 L785.4,394.5 L786.6,394.4 L787.8,394.3 L789.1,394.3 L790.3,394.2 L791.5,394.1 L792.7,394.0 L793.9,393.9 L795.2,393.7 L796.4,393.6 L797.6,393.5 L798.8,393.3 L800.0,393.1 L801.3,393.0 L802.5,392.8 L803.7,392.6 L804.9,392.3 L806.1,392.1 L807.4,391.8 L808.6,391.6 L809.8,391.3 L811.0,390.9 L812.2,390.6 L813.5,390.2 L814.7,389.8 L815.9,389.3 L817.1,388.8 L818.4,388.3 L819.6,387.8 L820.8,387.2 L822.0,386.5 L823.2,385.8 L824.5,385.1 L825.7,384.3 L826.9,383.4 L828.1,382.5 L829.3,381.5 L830.6,380.5 L831.8,379.4 L833.0,378.2 L834.2,376.9 L835.4,375.6 L836.7,374.1 L837.9,372.6 L839.1,371.0 L840.3,369.3 L841.5,367.5 L842.8,365.6 L844.0,363.6 L845.2,361.6 L846.4,359.4 L847.6,357.1 L848.9,354.7 L850.1,352.3 L851.3,349.7 L852.5,347.1 L853.7,344.3 L855.0,341.5 L856.2,338.6 L857.4,335.7 L858.6,332.7 L859.9,329.7 L861.1,326.6 L862.3,323.5 L863.5,320.3 L864.7,317.2 L866.0,314.0 L867.2,310.9 L868.4,307.8 L869.6,304.7 L870.8,301.7 L872.1,298.7 L873.3,295.7 L874.5,292.8 L875.7,290.0 L876.9,287.3 L878.2,284.7 L879.4,282.1 L880.6,279.6 L881.8,277.3 L883.0,275.0 L884.3,272.8 L885.5,270.7 L886.7,268.7 L887.9,266.8 L889.1,265.0 L890.4,263.3 L891.6,261.7 L892.8,260.2 L894.0,258.8 L895.2,257.4 L896.5,256.2 L897.7,255.0 L898.9,253.9 L900.1,252.8 L901.4,251.8 L902.6,250.9 L903.8,250.1 L905.0,249.3 L906.2,248.5 L907.5,247.8 L908.7,247.2 L909.9,246.6 L911.1,246.0 L912.3,245.5 L913.6,245.0 L914.8,244.6 L916.0,244.2 L917.2,243.8 L918.4,243.4 L919.7,243.1 L920.9,242.8 L922.1,242.5 L923.3,242.3 L924.5,242.0 L925.8,241.8 L927.0,241.6 L928.2,241.4 L929.4,241.2 L930.6,241.0 L931.9,240.9 L933.1,240.8 L934.3,240.6 L935.5,240.5 L936.7,240.4 L938.0,240.3 L939.2,240.2 L940.4,240.1 L941.6,240.0 L942.9,240.0 L944.1,239.9 L945.3,239.8 L946.5,239.8 L947.7,239.7 L949.0,239.7 L950.2,239.6 L951.4,239.6 L952.6,239.5 L953.8,239.5 L955.1,239.5 L956.3,239.4 L957.5,239.4 L958.7,239.4 L959.9,239.4 L961.2,239.3 L962.4,239.3 L963.6,239.3 L964.8,239.3 L966.0,239.3 L967.3,239.2 L968.5,239.2 L969.7,239.2 L970.9,239.2 L972.1,239.2 L973.4,239.2 L974.6,239.2 L975.8,239.2 L977.0,239.2 L978.2,239.1 L979.5,239.1 L980.7,239.1 L981.9,239.1 L983.1,239.1" fill="none" stroke="#e8341c" stroke-width="1.6"/><path d="M836.7,393.9 L837.9,393.8 L839.1,393.7 L840.3,393.6 L841.5,393.6 L842.8,393.5 L844.0,393.4 L845.2,393.2 L846.4,393.1 L847.6,393.0 L848.9,392.9 L850.1,392.7 L851.3,392.6 L852.5,392.4 L853.7,392.3 L855.0,392.1 L856.2,391.9 L857.4,391.8 L858.6,391.6 L859.9,391.4 L861.1,391.1 L862.3,390.9 L863.5,390.7 L864.7,390.4 L866.0,390.1 L867.2,389.9 L868.4,389.6 L869.6,389.2 L870.8,388.9 L872.1,388.6 L873.3,388.2 L874.5,387.8 L875.7,387.4 L876.9,387.0 L878.2,386.5 L879.4,386.0 L880.6,385.6 L881.8,385.0 L883.0,384.5 L884.3,383.9 L885.5,383.3 L886.7,382.7 L887.9,382.0 L889.1,381.3 L890.4,380.6 L891.6,379.8 L892.8,379.0 L894.0,378.2 L895.2,377.3 L896.5,376.4 L897.7,375.5 L898.9,374.5 L900.1,373.4 L901.4,372.4 L902.6,371.2 L903.8,370.1 L905.0,368.9 L906.2,367.6 L907.5,366.3 L908.7,364.9 L909.9,363.5 L911.1,362.1 L912.3,360.6 L913.6,359.0 L914.8,357.4 L916.0,355.7 L917.2,354.0 L918.4,352.3 L919.7,350.4 L920.9,348.6 L922.1,346.7 L923.3,344.7 L924.5,342.7 L925.8,340.7 L927.0,338.6 L928.2,336.5 L929.4,334.3 L930.6,332.1 L931.9,329.9 L933.1,327.6 L934.3,325.3 L935.5,323.0 L936.7,320.7 L938.0,318.3 L939.2,315.9 L940.4,313.6 L941.6,311.2 L942.9,308.8 L944.1,306.4 L945.3,304.0 L946.5,301.6 L947.7,299.3 L949.0,296.9 L950.2,294.6 L951.4,292.3 L952.6,290.0 L953.8,287.7 L955.1,285.5 L956.3,283.3 L957.5,281.1 L958.7,279.0 L959.9,276.9 L961.2,274.8 L962.4,272.8 L963.6,270.9 L964.8,269.0 L966.0,267.1 L967.3,265.3 L968.5,263.5 L969.7,261.8 L970.9,260.2 L972.1,258.6 L973.4,257.0 L974.6,255.5 L975.8,254.0 L977.0,252.6 L978.2,251.3 L979.5,250.0 L980.7,248.7 L981.9,247.5 L983.1,246.3 L984.4,245.2 L985.6,244.1 L986.8,243.1 L988.0,242.1 L989.2,241.1 L990.5,240.2 L991.7,239.4 L992.9,238.5 L994.1,237.7 L995.3,237.0 L996.6,236.2 L997.8,235.5 L999.0,234.9 L1000.2,234.3 L1001.4,233.7 L1002.7,233.1 L1003.9,232.5 L1005.1,232.0 L1006.3,231.5 L1007.5,231.0 L1008.8,230.6 L1010.0,230.2 L1011.2,229.8 L1012.4,229.4 L1013.6,229.0 L1014.9,228.7 L1016.1,228.3 L1017.3,228.0 L1018.5,227.7 L1019.8,227.4 L1021.0,227.2 L1022.2,226.9 L1023.4,226.7 L1024.6,226.4 L1025.9,226.2 L1027.1,226.0 L1028.3,225.8 L1029.5,225.6 L1030.7,225.4 L1032.0,225.3 L1033.2,225.1 L1034.4,225.0 L1035.6,224.8 L1036.8,224.7 L1038.1,224.6 L1039.3,224.4 L1040.5,224.3 L1041.7,224.2 L1042.9,224.1 L1044.2,224.0 L1045.4,223.9 L1046.6,223.8 L1047.8,223.7 L1049.0,223.7 L1050.3,223.6 L1051.5,223.5 L1052.7,223.4 L1053.9,223.4 L1055.1,223.3 L1056.4,223.3 L1057.6,223.2 L1058.8,223.2 L1060.0,223.1 L1061.3,223.1 L1062.5,223.0 L1063.7,223.0 L1064.9,222.9 L1066.1,222.9 L1067.4,222.9 L1068.6,222.8 L1069.8,222.8 L1071.0,222.8 L1072.2,222.8 L1073.5,222.7 L1074.7,222.7 L1075.9,222.7 L1077.1,222.7 L1078.3,222.6 L1079.6,222.6 L1080.8,222.6" fill="none" stroke="#2b2bf0" stroke-width="1.6"/><path d="M775.6,390.3 L780.6,395.3 L775.6,400.3 L770.6,395.3 Z" fill="#e8341c"/><path d="M836.7,368.5 L841.7,373.5 L836.7,378.5 L831.7,373.5 Z" fill="#e8341c"/><line x1="861.1" y1="319.7" x2="861.1" y2="336.5" stroke="#e8341c" stroke-width="2.3" /><line x1="855.6" y1="319.7" x2="866.6" y2="319.7" stroke="#e8341c" stroke-width="2.3" /><line x1="855.6" y1="336.5" x2="866.6" y2="336.5" stroke="#e8341c" stroke-width="2.3" /><path d="M861.1,323.1 L866.1,328.1 L861.1,333.1 L856.1,328.1 Z" fill="#e8341c"/><line x1="885.5" y1="271.8" x2="885.5" y2="283.6" stroke="#e8341c" stroke-width="2.3" /><line x1="880.0" y1="271.8" x2="891.0" y2="271.8" stroke="#e8341c" stroke-width="2.3" /><line x1="880.0" y1="283.6" x2="891.0" y2="283.6" stroke="#e8341c" stroke-width="2.3" /><path d="M885.5,272.7 L890.5,277.7 L885.5,282.7 L880.5,277.7 Z" fill="#e8341c"/><line x1="897.7" y1="242.4" x2="897.7" y2="255.9" stroke="#e8341c" stroke-width="2.3" /><line x1="892.2" y1="242.4" x2="903.2" y2="242.4" stroke="#e8341c" stroke-width="2.3" /><line x1="892.2" y1="255.9" x2="903.2" y2="255.9" stroke="#e8341c" stroke-width="2.3" /><path d="M897.7,244.1 L902.7,249.1 L897.7,254.1 L892.7,249.1 Z" fill="#e8341c"/><line x1="909.9" y1="234.0" x2="909.9" y2="247.5" stroke="#e8341c" stroke-width="2.3" /><line x1="904.4" y1="234.0" x2="915.4" y2="234.0" stroke="#e8341c" stroke-width="2.3" /><line x1="904.4" y1="247.5" x2="915.4" y2="247.5" stroke="#e8341c" stroke-width="2.3" /><path d="M909.9,235.7 L914.9,240.7 L909.9,245.7 L904.9,240.7 Z" fill="#e8341c"/><path d="M934.3,224.0 L939.3,229.0 L934.3,234.0 L929.3,229.0 Z" fill="#e8341c"/><line x1="958.7" y1="235.7" x2="958.7" y2="245.8" stroke="#e8341c" stroke-width="2.3" /><line x1="953.2" y1="235.7" x2="964.2" y2="235.7" stroke="#e8341c" stroke-width="2.3" /><line x1="953.2" y1="245.8" x2="964.2" y2="245.8" stroke="#e8341c" stroke-width="2.3" /><path d="M958.7,235.7 L963.7,240.7 L958.7,245.7 L953.7,240.7 Z" fill="#e8341c"/><line x1="983.1" y1="249.1" x2="983.1" y2="262.6" stroke="#e8341c" stroke-width="2.3" /><line x1="977.6" y1="249.1" x2="988.6" y2="249.1" stroke="#e8341c" stroke-width="2.3" /><line x1="977.6" y1="262.6" x2="988.6" y2="262.6" stroke="#e8341c" stroke-width="2.3" /><path d="M983.1,250.9 L988.1,255.9 L983.1,260.9 L978.1,255.9 Z" fill="#e8341c"/><rect x="832.0" y="390.6" width="9.4" height="9.4" fill="#2b2bf0"/><rect x="856.4" y="384.7" width="9.4" height="9.4" fill="#2b2bf0"/><rect x="893.0" y="360.4" width="9.4" height="9.4" fill="#2b2bf0"/><rect x="941.8" y="281.4" width="9.4" height="9.4" fill="#2b2bf0"/><rect x="954.0" y="320.0" width="9.4" height="9.4" fill="#2b2bf0"/><line x1="970.9" y1="244.1" x2="970.9" y2="254.2" stroke="#2b2bf0" stroke-width="2.3" /><line x1="965.4" y1="244.1" x2="976.4" y2="244.1" stroke="#2b2bf0" stroke-width="2.3" /><line x1="965.4" y1="254.2" x2="976.4" y2="254.2" stroke="#2b2bf0" stroke-width="2.3" /><rect x="966.2" y="244.4" width="9.4" height="9.4" fill="#2b2bf0"/><line x1="983.1" y1="255.9" x2="983.1" y2="265.9" stroke="#2b2bf0" stroke-width="2.3" /><line x1="977.6" y1="255.9" x2="988.6" y2="255.9" stroke="#2b2bf0" stroke-width="2.3" /><line x1="977.6" y1="265.9" x2="988.6" y2="265.9" stroke="#2b2bf0" stroke-width="2.3" /><rect x="978.4" y="256.2" width="9.4" height="9.4" fill="#2b2bf0"/><rect x="990.6" y="219.2" width="9.4" height="9.4" fill="#2b2bf0"/><line x1="1007.5" y1="218.9" x2="1007.5" y2="229.0" stroke="#2b2bf0" stroke-width="2.3" /><line x1="1002.0" y1="218.9" x2="1013.0" y2="218.9" stroke="#2b2bf0" stroke-width="2.3" /><line x1="1002.0" y1="229.0" x2="1013.0" y2="229.0" stroke="#2b2bf0" stroke-width="2.3" /><rect x="1002.8" y="219.2" width="9.4" height="9.4" fill="#2b2bf0"/><rect x="1015.0" y="212.5" width="9.4" height="9.4" fill="#2b2bf0"/><line x1="1032.0" y1="229.0" x2="1032.0" y2="239.1" stroke="#2b2bf0" stroke-width="2.3" /><line x1="1026.5" y1="229.0" x2="1037.5" y2="229.0" stroke="#2b2bf0" stroke-width="2.3" /><line x1="1026.5" y1="239.1" x2="1037.5" y2="239.1" stroke="#2b2bf0" stroke-width="2.3" /><rect x="1027.3" y="229.3" width="9.4" height="9.4" fill="#2b2bf0"/><rect x="1051.7" y="227.6" width="9.4" height="9.4" fill="#2b2bf0"/><rect x="1076.1" y="224.3" width="9.4" height="9.4" fill="#2b2bf0"/><line x1="741.7" y1="163.1" x2="773.1" y2="163.1" stroke="#e8341c" stroke-width="1.6" /><path d="M757.2,158.8 L761.5,163.1 L757.2,167.4 L752.9,163.1 Z" fill="#e8341c"/><text x="790.6" y="170.5" font-size="20.5" text-anchor="start" fill="#111" font-weight="normal" >cAMP</text><line x1="741.7" y1="193.9" x2="773.1" y2="193.9" stroke="#2b2bf0" stroke-width="1.6" /><rect x="752.8" y="189.5" width="8.8" height="8.8" fill="#2b2bf0"/><text x="790.6" y="201.5" font-size="20.5" fill="#111">Ca<tspan font-size="14" dy="-8">2+</tspan></text><line x1="1376.6" y1="145.6" x2="1376.6" y2="433.5" stroke="#111" stroke-width="1.6" /><line x1="1375.8" y1="432.7" x2="1807.6" y2="432.7" stroke="#111" stroke-width="1.6" /><line x1="1365.0" y1="145.7" x2="1376.6" y2="145.7" stroke="#111" stroke-width="1.6" /><text x="1363.5" y="153.4" font-size="22" text-anchor="end" fill="#111" font-weight="normal" >0.05</text><line x1="1365.0" y1="217.4" x2="1376.6" y2="217.4" stroke="#111" stroke-width="1.6" /><text x="1363.5" y="225.1" font-size="22" text-anchor="end" fill="#111" font-weight="normal" >0.00</text><line x1="1365.0" y1="289.1" x2="1376.6" y2="289.1" stroke="#111" stroke-width="1.6" /><text x="1363.5" y="296.8" font-size="22" text-anchor="end" fill="#111" font-weight="normal" >-0.05</text><line x1="1365.0" y1="360.8" x2="1376.6" y2="360.8" stroke="#111" stroke-width="1.6" /><text x="1363.5" y="368.5" font-size="22" text-anchor="end" fill="#111" font-weight="normal" >-0.10</text><line x1="1365.0" y1="432.5" x2="1376.6" y2="432.5" stroke="#111" stroke-width="1.6" /><text x="1363.5" y="440.2" font-size="22" text-anchor="end" fill="#111" font-weight="normal" >-0.15</text><line x1="1376.6" y1="432.7" x2="1376.6" y2="444.0" stroke="#111" stroke-width="1.6" /><text x="1376.6" y="467.5" font-size="22" text-anchor="middle" fill="#111" font-weight="normal" >9.0</text><line x1="1430.5" y1="432.7" x2="1430.5" y2="444.0" stroke="#111" stroke-width="1.6" /><text x="1430.5" y="467.5" font-size="22" text-anchor="middle" fill="#111" font-weight="normal" >8.5</text><line x1="1484.3" y1="432.7" x2="1484.3" y2="444.0" stroke="#111" stroke-width="1.6" /><text x="1484.3" y="467.5" font-size="22" text-anchor="middle" fill="#111" font-weight="normal" >8.0</text><line x1="1538.2" y1="432.7" x2="1538.2" y2="444.0" stroke="#111" stroke-width="1.6" /><text x="1538.2" y="467.5" font-size="22" text-anchor="middle" fill="#111" font-weight="normal" >7.5</text><line x1="1592.1" y1="432.7" x2="1592.1" y2="444.0" stroke="#111" stroke-width="1.6" /><text x="1592.1" y="467.5" font-size="22" text-anchor="middle" fill="#111" font-weight="normal" >7.0</text><line x1="1646.0" y1="432.7" x2="1646.0" y2="444.0" stroke="#111" stroke-width="1.6" /><text x="1646.0" y="467.5" font-size="22" text-anchor="middle" fill="#111" font-weight="normal" >6.5</text><line x1="1699.8" y1="432.7" x2="1699.8" y2="444.0" stroke="#111" stroke-width="1.6" /><text x="1699.8" y="467.5" font-size="22" text-anchor="middle" fill="#111" font-weight="normal" >6.0</text><line x1="1753.7" y1="432.7" x2="1753.7" y2="444.0" stroke="#111" stroke-width="1.6" /><text x="1753.7" y="467.5" font-size="22" text-anchor="middle" fill="#111" font-weight="normal" >5.5</text><line x1="1807.6" y1="432.7" x2="1807.6" y2="444.0" stroke="#111" stroke-width="1.6" /><text x="1807.6" y="467.5" font-size="22" text-anchor="middle" fill="#111" font-weight="normal" >5.0</text><text x="1592.1" y="502.0" font-size="23" text-anchor="middle" fill="#111" font-weight="normal" >pH</text><text x="0" y="0" font-size="23.2" text-anchor="start" fill="#111" transform="translate(1296.6,308.3) rotate(-90)">BRET</text><path d="M1296.3,311.2 L1296.3,329.8 L1280.2,320.5 Z" fill="none" stroke="#111" stroke-width="1.6" stroke-linejoin="miter"/><circle cx="1376.6" cy="217.4" r="2.6" fill="#000"/><circle cx="1387.6" cy="217.4" r="2.6" fill="#000"/><circle cx="1398.7" cy="217.4" r="2.6" fill="#000"/><circle cx="1409.7" cy="217.4" r="2.6" fill="#000"/><circle cx="1420.7" cy="217.4" r="2.6" fill="#000"/><circle cx="1431.7" cy="217.4" r="2.6" fill="#000"/><circle cx="1442.8" cy="217.4" r="2.6" fill="#000"/><circle cx="1453.8" cy="217.4" r="2.6" fill="#000"/><circle cx="1464.8" cy="217.4" r="2.6" fill="#000"/><circle cx="1475.9" cy="217.4" r="2.6" fill="#000"/><circle cx="1486.9" cy="217.4" r="2.6" fill="#000"/><circle cx="1497.9" cy="217.4" r="2.6" fill="#000"/><circle cx="1509.0" cy="217.4" r="2.6" fill="#000"/><circle cx="1520.0" cy="217.4" r="2.6" fill="#000"/><circle cx="1531.0" cy="217.4" r="2.6" fill="#000"/><circle cx="1542.0" cy="217.4" r="2.6" fill="#000"/><circle cx="1553.1" cy="217.4" r="2.6" fill="#000"/><circle cx="1564.1" cy="217.4" r="2.6" fill="#000"/><circle cx="1575.1" cy="217.4" r="2.6" fill="#000"/><circle cx="1586.2" cy="217.4" r="2.6" fill="#000"/><circle cx="1597.2" cy="217.4" r="2.6" fill="#000"/><circle cx="1608.2" cy="217.4" r="2.6" fill="#000"/><circle cx="1619.3" cy="217.4" r="2.6" fill="#000"/><circle cx="1630.3" cy="217.4" r="2.6" fill="#000"/><circle cx="1641.3" cy="217.4" r="2.6" fill="#000"/><circle cx="1652.3" cy="217.4" r="2.6" fill="#000"/><circle cx="1663.4" cy="217.4" r="2.6" fill="#000"/><circle cx="1674.4" cy="217.4" r="2.6" fill="#000"/><circle cx="1685.4" cy="217.4" r="2.6" fill="#000"/><circle cx="1696.5" cy="217.4" r="2.6" fill="#000"/><circle cx="1707.5" cy="217.4" r="2.6" fill="#000"/><circle cx="1718.5" cy="217.4" r="2.6" fill="#000"/><circle cx="1729.6" cy="217.4" r="2.6" fill="#000"/><circle cx="1740.6" cy="217.4" r="2.6" fill="#000"/><circle cx="1751.6" cy="217.4" r="2.6" fill="#000"/><circle cx="1762.6" cy="217.4" r="2.6" fill="#000"/><circle cx="1773.7" cy="217.4" r="2.6" fill="#000"/><circle cx="1784.7" cy="217.4" r="2.6" fill="#000"/><circle cx="1795.7" cy="217.4" r="2.6" fill="#000"/><circle cx="1806.8" cy="217.4" r="2.6" fill="#000"/><path d="M1430.5,221.6 L1431.6,221.7 L1432.6,221.9 L1433.7,222.0 L1434.8,222.2 L1435.9,222.3 L1436.9,222.5 L1438.0,222.7 L1439.1,222.8 L1440.2,223.0 L1441.2,223.2 L1442.3,223.4 L1443.4,223.6 L1444.5,223.8 L1445.6,224.0 L1446.6,224.2 L1447.7,224.4 L1448.8,224.7 L1449.9,224.9 L1450.9,225.2 L1452.0,225.4 L1453.1,225.7 L1454.2,225.9 L1455.3,226.2 L1456.3,226.5 L1457.4,226.8 L1458.5,227.1 L1459.6,227.4 L1460.6,227.7 L1461.7,228.0 L1462.8,228.4 L1463.9,228.7 L1465.0,229.1 L1466.0,229.5 L1467.1,229.8 L1468.2,230.2 L1469.3,230.6 L1470.3,231.1 L1471.4,231.5 L1472.5,231.9 L1473.6,232.4 L1474.7,232.8 L1475.7,233.3 L1476.8,233.8 L1477.9,234.3 L1479.0,234.8 L1480.0,235.4 L1481.1,235.9 L1482.2,236.5 L1483.3,237.1 L1484.3,237.6 L1485.4,238.3 L1486.5,238.9 L1487.6,239.5 L1488.7,240.2 L1489.7,240.8 L1490.8,241.5 L1491.9,242.2 L1493.0,243.0 L1494.0,243.7 L1495.1,244.5 L1496.2,245.2 L1497.3,246.0 L1498.4,246.9 L1499.4,247.7 L1500.5,248.5 L1501.6,249.4 L1502.7,250.3 L1503.7,251.2 L1504.8,252.1 L1505.9,253.1 L1507.0,254.0 L1508.1,255.0 L1509.1,256.0 L1510.2,257.1 L1511.3,258.1 L1512.4,259.2 L1513.4,260.2 L1514.5,261.3 L1515.6,262.5 L1516.7,263.6 L1517.8,264.8 L1518.8,265.9 L1519.9,267.1 L1521.0,268.3 L1522.1,269.6 L1523.1,270.8 L1524.2,272.1 L1525.3,273.4 L1526.4,274.7 L1527.5,276.0 L1528.5,277.3 L1529.6,278.7 L1530.7,280.0 L1531.8,281.4 L1532.8,282.8 L1533.9,284.2 L1535.0,285.6 L1536.1,287.0 L1537.1,288.4 L1538.2,289.9 L1539.3,291.3 L1540.4,292.8 L1541.5,294.3 L1542.5,295.7 L1543.6,297.2 L1544.7,298.7 L1545.8,300.2 L1546.8,301.7 L1547.9,303.2 L1549.0,304.7 L1550.1,306.2 L1551.2,307.7 L1552.2,309.3 L1553.3,310.8 L1554.4,312.3 L1555.5,313.8 L1556.5,315.3 L1557.6,316.8 L1558.7,318.3 L1559.8,319.7 L1560.9,321.2 L1561.9,322.7 L1563.0,324.1 L1564.1,325.6 L1565.2,327.0 L1566.2,328.5 L1567.3,329.9 L1568.4,331.3 L1569.5,332.7 L1570.5,334.1 L1571.6,335.5 L1572.7,336.8 L1573.8,338.2 L1574.9,339.5 L1575.9,340.8 L1577.0,342.1 L1578.1,343.4 L1579.2,344.7 L1580.2,345.9 L1581.3,347.1 L1582.4,348.4 L1583.5,349.5 L1584.6,350.7 L1585.6,351.9 L1586.7,353.0 L1587.8,354.1 L1588.9,355.2 L1589.9,356.3 L1591.0,357.4 L1592.1,358.4 L1593.2,359.5 L1594.3,360.5 L1595.3,361.4 L1596.4,362.4 L1597.5,363.4 L1598.6,364.3 L1599.6,365.2 L1600.7,366.1 L1601.8,366.9 L1602.9,367.8 L1604.0,368.6 L1605.0,369.4 L1606.1,370.2 L1607.2,371.0 L1608.3,371.8 L1609.3,372.5 L1610.4,373.2 L1611.5,373.9 L1612.6,374.6 L1613.6,375.3 L1614.7,376.0 L1615.8,376.6 L1616.9,377.2 L1618.0,377.8 L1619.0,378.4 L1620.1,379.0 L1621.2,379.6 L1622.3,380.1 L1623.3,380.7 L1624.4,381.2 L1625.5,381.7 L1626.6,382.2 L1627.7,382.6 L1628.7,383.1 L1629.8,383.6 L1630.9,384.0 L1632.0,384.4 L1633.0,384.8 L1634.1,385.2 L1635.2,385.6 L1636.3,386.0 L1637.4,386.4 L1638.4,386.8 L1639.5,387.1 L1640.6,387.4 L1641.7,387.8 L1642.7,388.1 L1643.8,388.4 L1644.9,388.7 L1646.0,389.0 L1647.1,389.3 L1648.1,389.6 L1649.2,389.8 L1650.3,390.1 L1651.4,390.3 L1652.4,390.6 L1653.5,390.8 L1654.6,391.0 L1655.7,391.3 L1656.8,391.5 L1657.8,391.7 L1658.9,391.9 L1660.0,392.1 L1661.1,392.3 L1662.1,392.5 L1663.2,392.6 L1664.3,392.8 L1665.4,393.0 L1666.4,393.1 L1667.5,393.3 L1668.6,393.5 L1669.7,393.6 L1670.8,393.8 L1671.8,393.9 L1672.9,394.0 L1674.0,394.2 L1675.1,394.3 L1676.1,394.4 L1677.2,394.5 L1678.3,394.6 L1679.4,394.7 L1680.5,394.9 L1681.5,395.0 L1682.6,395.1 L1683.7,395.2 L1684.8,395.3 L1685.8,395.3 L1686.9,395.4 L1688.0,395.5 L1689.1,395.6 L1690.2,395.7 L1691.2,395.8 L1692.3,395.8 L1693.4,395.9 L1694.5,396.0 L1695.5,396.0 L1696.6,396.1 L1697.7,396.2 L1698.8,396.2 L1699.8,396.3 L1700.9,396.4 L1702.0,396.4 L1703.1,396.5 L1704.2,396.5 L1705.2,396.6 L1706.3,396.6 L1707.4,396.7 L1708.5,396.7 L1709.5,396.8 L1710.6,396.8 L1711.7,396.8 L1712.8,396.9 L1713.9,396.9 L1714.9,397.0 L1716.0,397.0 L1717.1,397.0 L1718.2,397.1 L1719.2,397.1 L1720.3,397.1 L1721.4,397.2 L1722.5,397.2 L1723.6,397.2 L1724.6,397.3 L1725.7,397.3 L1726.8,397.3 L1727.9,397.3 L1728.9,397.4 L1730.0,397.4 L1731.1,397.4 L1732.2,397.4 L1733.3,397.4 L1734.3,397.5 L1735.4,397.5 L1736.5,397.5 L1737.6,397.5 L1738.6,397.5 L1739.7,397.6 L1740.8,397.6 L1741.9,397.6 L1742.9,397.6 L1744.0,397.6 L1745.1,397.6 L1746.2,397.7 L1747.3,397.7 L1748.3,397.7 L1749.4,397.7 L1750.5,397.7 L1751.6,397.7 L1752.6,397.7 L1753.7,397.7" fill="none" stroke="#2c2cf0" stroke-width="1.6"/><line x1="1430.5" y1="210.2" x2="1430.5" y2="224.6" stroke="#111" stroke-width="1.6" /><line x1="1425.5" y1="210.2" x2="1435.5" y2="210.2" stroke="#111" stroke-width="1.6" /><line x1="1425.5" y1="224.6" x2="1435.5" y2="224.6" stroke="#111" stroke-width="1.6" /><circle cx="1430.5" cy="217.4" r="4.9" fill="#fff" stroke="#111" stroke-width="1.6"/><circle cx="1484.3" cy="201.6" r="4.9" fill="#fff" stroke="#111" stroke-width="1.6"/><line x1="1538.2" y1="201.6" x2="1538.2" y2="227.4" stroke="#111" stroke-width="1.6" /><line x1="1533.2" y1="201.6" x2="1543.2" y2="201.6" stroke="#111" stroke-width="1.6" /><line x1="1533.2" y1="227.4" x2="1543.2" y2="227.4" stroke="#111" stroke-width="1.6" /><circle cx="1538.2" cy="214.5" r="4.9" fill="#fff" stroke="#111" stroke-width="1.6"/><line x1="1559.8" y1="223.1" x2="1559.8" y2="240.3" stroke="#111" stroke-width="1.6" /><line x1="1554.8" y1="223.1" x2="1564.8" y2="223.1" stroke="#111" stroke-width="1.6" /><line x1="1554.8" y1="240.3" x2="1564.8" y2="240.3" stroke="#111" stroke-width="1.6" /><circle cx="1559.8" cy="231.7" r="4.9" fill="#fff" stroke="#111" stroke-width="1.6"/><line x1="1592.1" y1="218.8" x2="1592.1" y2="241.8" stroke="#111" stroke-width="1.6" /><line x1="1587.1" y1="218.8" x2="1597.1" y2="218.8" stroke="#111" stroke-width="1.6" /><line x1="1587.1" y1="241.8" x2="1597.1" y2="241.8" stroke="#111" stroke-width="1.6" /><circle cx="1592.1" cy="230.3" r="4.9" fill="#fff" stroke="#111" stroke-width="1.6"/><line x1="1646.0" y1="217.4" x2="1646.0" y2="234.6" stroke="#111" stroke-width="1.6" /><line x1="1641.0" y1="217.4" x2="1651.0" y2="217.4" stroke="#111" stroke-width="1.6" /><line x1="1641.0" y1="234.6" x2="1651.0" y2="234.6" stroke="#111" stroke-width="1.6" /><circle cx="1646.0" cy="226.0" r="4.9" fill="#fff" stroke="#111" stroke-width="1.6"/><circle cx="1699.8" cy="220.3" r="4.9" fill="#fff" stroke="#111" stroke-width="1.6"/><circle cx="1753.7" cy="226.0" r="4.9" fill="#fff" stroke="#111" stroke-width="1.6"/><line x1="1430.5" y1="201.6" x2="1430.5" y2="233.2" stroke="#2c2cf0" stroke-width="2.2" /><line x1="1424.5" y1="201.6" x2="1436.5" y2="201.6" stroke="#2c2cf0" stroke-width="2.2" /><line x1="1424.5" y1="233.2" x2="1436.5" y2="233.2" stroke="#2c2cf0" stroke-width="2.2" /><circle cx="1430.5" cy="217.4" r="5.9" fill="#2c2cf0"/><circle cx="1484.3" cy="240.3" r="5.9" fill="#2c2cf0"/><circle cx="1538.2" cy="306.3" r="5.9" fill="#2c2cf0"/><line x1="1559.8" y1="300.6" x2="1559.8" y2="317.8" stroke="#2c2cf0" stroke-width="2.2" /><line x1="1553.8" y1="300.6" x2="1565.8" y2="300.6" stroke="#2c2cf0" stroke-width="2.2" /><line x1="1553.8" y1="317.8" x2="1565.8" y2="317.8" stroke="#2c2cf0" stroke-width="2.2" /><circle cx="1559.8" cy="309.2" r="5.9" fill="#2c2cf0"/><line x1="1592.1" y1="355.1" x2="1592.1" y2="366.5" stroke="#2c2cf0" stroke-width="2.2" /><line x1="1586.1" y1="355.1" x2="1598.1" y2="355.1" stroke="#2c2cf0" stroke-width="2.2" /><line x1="1586.1" y1="366.5" x2="1598.1" y2="366.5" stroke="#2c2cf0" stroke-width="2.2" /><circle cx="1592.1" cy="360.8" r="5.9" fill="#2c2cf0"/><line x1="1646.0" y1="383.7" x2="1646.0" y2="409.6" stroke="#2c2cf0" stroke-width="2.2" /><line x1="1640.0" y1="383.7" x2="1652.0" y2="383.7" stroke="#2c2cf0" stroke-width="2.2" /><line x1="1640.0" y1="409.6" x2="1652.0" y2="409.6" stroke="#2c2cf0" stroke-width="2.2" /><circle cx="1646.0" cy="396.6" r="5.9" fill="#2c2cf0"/><line x1="1699.8" y1="392.3" x2="1699.8" y2="403.8" stroke="#2c2cf0" stroke-width="2.2" /><line x1="1693.8" y1="392.3" x2="1705.8" y2="392.3" stroke="#2c2cf0" stroke-width="2.2" /><line x1="1693.8" y1="403.8" x2="1705.8" y2="403.8" stroke="#2c2cf0" stroke-width="2.2" /><circle cx="1699.8" cy="398.1" r="5.9" fill="#2c2cf0"/><circle cx="1753.7" cy="389.5" r="5.9" fill="#2c2cf0"/><line x1="1817.5" y1="165.3" x2="1847.8" y2="165.3" stroke="#2c2cf0" stroke-width="1.6" /><circle cx="1833" cy="165.3" r="5.9" fill="#2c2cf0"/><text x="1866.4" y="173.5" font-size="23" text-anchor="start" fill="#111" font-weight="normal" >GPR4-G13</text><circle cx="1833" cy="205.6" r="5" fill="#fff" stroke="#111" stroke-width="1.6"/><text x="1866.4" y="213.8" font-size="23" text-anchor="start" fill="#111" font-weight="normal" >pcDNA3.1</text><text x="17.0" y="587.0" font-size="24" text-anchor="start" fill="#231815" font-weight="bold" >c</text><line x1="8.7" y1="609.0" x2="1984.0" y2="609.0" stroke="#c8c8c8" stroke-width="1.0" /><line x1="8.7" y1="609.0" x2="1984.0" y2="609.0" stroke="#444" stroke-width="1.6" stroke-dasharray="12,12" stroke-dashoffset="6"/><path d="M1991,609 L1979,603.5 L1982,609 L1979,614.5 Z" fill="#111"/><rect x="15.4" y="624.1" width="1235.3" height="45" fill="#c1d7ed"/><rect x="1258.8" y="624.6" width="466.2" height="45.4" fill="#cdeca3"/><rect x="1738" y="625" width="254.3" height="45" fill="#f0e0a8"/><text x="597.6" y="655.4" font-size="20" text-anchor="middle" fill="#111" font-weight="normal" >Active States</text><text x="1464.5" y="654.8" font-size="20" text-anchor="middle" fill="#111" font-weight="normal" >Intermediate state</text><text x="1858.7" y="654.8" font-size="20" text-anchor="middle" fill="#111" font-weight="normal" >Inactive State</text><rect x="2" y="719" width="605.8" height="91.8" fill="#e4e3df"/><rect x="618.5" y="719" width="237.5" height="92.0" fill="#e4e3df"/><rect x="865.5" y="719" width="593.0" height="92.3" fill="#e4e3df"/><rect x="1464.3" y="717.1" width="256.6" height="93.1" fill="#e4e3df"/><rect x="1728.8" y="718.9" width="268.2" height="91.3" fill="#e4e3df"/><line x1="208.6" y1="719.0" x2="208.6" y2="811.0" stroke="#fff" stroke-width="1.2" stroke-dasharray="4,3"/><line x1="407.6" y1="719.0" x2="407.6" y2="811.0" stroke="#fff" stroke-width="1.2" stroke-dasharray="4,3"/><line x1="1056.5" y1="719.0" x2="1056.5" y2="811.0" stroke="#fff" stroke-width="1.2" stroke-dasharray="4,3"/><line x1="1255.5" y1="719.0" x2="1255.5" y2="811.0" stroke="#fff" stroke-width="1.2" stroke-dasharray="4,3"/><g filter="url(#tex)"><rect x="146.0" y="811.0" width="48.0" height="139.0" fill="none"/><path d="M158.0,823.0 C160.8,823.5 171.3,822.0 175.0,826.0 C178.7,830.0 178.8,839.5 180.0,847.0 C181.2,854.5 181.8,863.0 182.0,871.0 C182.2,879.0 181.8,887.0 181.0,895.0 C180.2,903.0 179.2,911.8 177.0,919.0 C174.8,926.2 169.5,934.8 168.0,938.0" fill="none" stroke="#6ec9e0" stroke-width="12" stroke-linecap="round" stroke-linejoin="round"/></g><path d="M108.8,838.0 C111.8,834.5 119.9,833.8 126.9,832.0 C133.9,830.2 144.5,827.7 151.0,827.5 C157.5,827.3 162.2,828.1 166.0,831.0 C169.8,833.9 172.2,839.3 174.0,845.0 C175.8,850.7 176.3,858.2 177.0,865.0 C177.7,871.8 178.2,879.0 178.0,886.0 C177.8,893.0 177.5,900.0 176.0,907.0 C174.5,914.0 172.2,922.4 169.0,928.0 C165.8,933.6 161.6,937.2 157.1,940.8 C152.6,944.4 147.0,947.3 142.0,949.8 C137.0,952.3 132.4,954.9 126.9,955.9 C121.4,956.9 112.8,957.4 108.8,955.9 C104.8,954.4 101.7,950.3 102.7,946.8 C103.7,943.3 111.8,938.2 114.8,934.7 C117.8,931.2 119.3,930.1 120.8,925.6 C122.3,921.1 123.9,914.5 123.9,907.5 C123.9,900.5 122.8,889.4 120.8,883.4 C118.8,877.4 113.8,876.4 111.8,871.3 C109.8,866.2 109.3,858.5 108.8,853.0 C108.3,847.5 105.8,841.5 108.8,838.0 Z" fill="#d9bfe2" filter="url(#texd)"/><g fill="#4fb4cc" filter="url(#tex)"><circle cx="99.7" cy="940.8" r="3.6"/><circle cx="106.5" cy="938.9" r="4.2"/><circle cx="113.2" cy="936.9" r="4.8"/><circle cx="120.0" cy="935.0" r="3.9"/><circle cx="129.5" cy="933.4" r="4.5"/><circle cx="139.0" cy="931.7" r="3.6"/><path d="M99.7,941.8 L120.0,936.0 L139.0,932.7" stroke="#4fb4cc" stroke-width="5.0" fill="none"/></g><path d="M40.0,905.0 C44.3,898.0 53.7,890.8 62.0,886.0 C70.3,881.2 82.7,877.5 90.0,876.0 C97.3,874.5 100.8,875.3 106.0,877.0 C111.2,878.7 118.0,881.0 121.0,886.0 C124.0,891.0 124.0,900.3 124.0,907.0 C124.0,913.7 124.0,919.7 121.0,926.0 C118.0,932.3 111.2,940.3 106.0,945.0 C100.8,949.7 96.0,951.5 90.0,954.0 C84.0,956.5 76.7,959.3 70.0,960.0 C63.3,960.7 55.0,960.0 50.0,958.0 C45.0,956.0 42.3,953.0 40.0,948.0 C37.7,943.0 36.0,935.2 36.0,928.0 C36.0,920.8 35.7,912.0 40.0,905.0 Z" fill="#7b7b7b" filter="url(#tex)"/><path d="M18.0,866.0 C22.0,863.0 30.3,861.7 36.0,859.5 C41.7,857.3 48.0,854.9 52.0,853.0 C56.0,851.1 57.1,853.5 60.0,848.0 C62.9,842.5 64.4,824.2 69.5,820.0 C74.6,815.8 85.6,821.0 90.6,823.0 C95.6,825.0 97.7,828.0 99.7,832.0 C101.7,836.0 101.2,842.5 102.7,847.0 C104.2,851.5 108.3,854.0 108.8,859.0 C109.3,864.0 111.8,873.2 105.7,877.3 C99.7,881.4 80.0,879.4 72.5,883.4 C65.0,887.4 64.9,897.5 60.4,901.5 C55.9,905.5 50.3,904.5 45.3,907.5 C40.3,910.5 35.2,918.6 30.2,919.6 C25.2,920.6 18.4,917.6 15.1,913.6 C11.8,909.6 11.1,901.5 10.6,895.4 C10.1,889.3 10.9,882.2 12.1,877.3 C13.3,872.4 14.0,869.0 18.0,866.0 Z" fill="#5b9a2c" filter="url(#tex)"/><g fill="#5b9a2c" filter="url(#tex)"><circle cx="99.7" cy="827.5" r="4.2"/><circle cx="107.3" cy="825.9" r="5.0"/><circle cx="114.8" cy="824.2" r="5.8"/><circle cx="122.4" cy="822.6" r="4.6"/><circle cx="130.0" cy="821.0" r="5.4"/><circle cx="137.5" cy="820.2" r="4.2"/><circle cx="145.0" cy="819.5" r="5.0"/><circle cx="152.5" cy="818.8" r="5.8"/><circle cx="160.0" cy="818.0" r="4.6"/><circle cx="167.1" cy="817.1" r="5.4"/><circle cx="174.2" cy="816.3" r="4.2"/><circle cx="181.3" cy="815.4" r="5.0"/><path d="M99.7,828.5 L130.0,822.0 L160.0,819.0 L181.3,816.4" stroke="#5b9a2c" stroke-width="6.0" fill="none"/></g><path d="M66.0,818.0 C69.7,813.0 87.0,815.5 92.0,820.0 C97.0,824.5 99.7,840.0 96.0,845.0 C92.3,850.0 75.0,854.5 70.0,850.0 C65.0,845.5 62.3,823.0 66.0,818.0 Z" fill="#5b9a2c" filter="url(#tex)"/><path d="M48.3,717.2 C48.8,710.4 48.4,706.6 52.9,703.6 C57.4,700.6 69.2,699.3 75.5,699.0 C81.8,698.7 85.0,698.5 90.6,702.0 C96.1,705.5 104.0,716.0 108.8,720.0 C113.6,724.0 117.3,723.0 119.3,726.0 C121.3,729.0 121.3,732.7 120.8,738.3 C120.3,743.9 117.8,754.0 116.3,759.5 C114.8,765.0 112.3,767.1 111.8,771.6 C111.3,776.1 112.3,781.2 113.3,786.7 C114.3,792.2 117.8,799.2 117.8,804.8 C117.8,810.3 117.8,817.0 113.3,820.0 C108.8,823.0 97.4,823.5 90.6,823.0 C83.8,822.5 77.5,813.0 72.5,817.0 C67.5,821.0 64.9,843.5 60.4,847.0 C55.9,850.5 48.8,843.0 45.3,838.0 C41.8,833.0 39.3,824.0 39.3,817.0 C39.3,810.0 43.3,804.3 45.3,795.7 C47.3,787.1 50.6,774.0 51.4,765.5 C52.1,757.0 50.3,752.4 49.8,744.4 C49.3,736.4 47.8,724.0 48.3,717.2 Z" fill="#e6a52a" filter="url(#texl)"/><g filter="url(#tex)"><rect x="349.0" y="811.0" width="48.0" height="139.0" fill="none"/><path d="M361.0,823.0 C363.8,823.5 374.3,822.0 378.0,826.0 C381.7,830.0 381.8,839.5 383.0,847.0 C384.2,854.5 384.8,863.0 385.0,871.0 C385.2,879.0 384.8,887.0 384.0,895.0 C383.2,903.0 382.2,911.8 380.0,919.0 C377.8,926.2 372.5,934.8 371.0,938.0" fill="none" stroke="#6ec9e0" stroke-width="12" stroke-linecap="round" stroke-linejoin="round"/></g><path d="M311.8,838.0 C314.8,834.5 322.9,833.8 329.9,832.0 C336.9,830.2 347.5,827.7 354.0,827.5 C360.5,827.3 365.2,828.1 369.0,831.0 C372.8,833.9 375.2,839.3 377.0,845.0 C378.8,850.7 379.3,858.2 380.0,865.0 C380.7,871.8 381.2,879.0 381.0,886.0 C380.8,893.0 380.5,900.0 379.0,907.0 C377.5,914.0 375.1,922.4 372.0,928.0 C368.9,933.6 364.6,937.2 360.1,940.8 C355.6,944.4 350.0,947.3 345.0,949.8 C340.0,952.3 335.4,954.9 329.9,955.9 C324.4,956.9 315.8,957.4 311.8,955.9 C307.8,954.4 304.7,950.3 305.7,946.8 C306.7,943.3 314.8,938.2 317.8,934.7 C320.8,931.2 322.3,930.1 323.8,925.6 C325.3,921.1 326.9,914.5 326.9,907.5 C326.9,900.5 325.8,889.4 323.8,883.4 C321.8,877.4 316.8,876.4 314.8,871.3 C312.8,866.2 312.3,858.5 311.8,853.0 C311.3,847.5 308.8,841.5 311.8,838.0 Z" fill="#d9bfe2" filter="url(#texd)"/><g fill="#4fb4cc" filter="url(#tex)"><circle cx="302.7" cy="940.8" r="3.6"/><circle cx="309.5" cy="938.9" r="4.2"/><circle cx="316.2" cy="936.9" r="4.8"/><circle cx="323.0" cy="935.0" r="3.9"/><circle cx="332.5" cy="933.4" r="4.5"/><circle cx="342.0" cy="931.7" r="3.6"/><path d="M302.7,941.8 L323.0,936.0 L342.0,932.7" stroke="#4fb4cc" stroke-width="5.0" fill="none"/></g><path d="M243.0,905.0 C247.3,898.0 256.7,890.8 265.0,886.0 C273.3,881.2 285.7,877.5 293.0,876.0 C300.3,874.5 303.8,875.3 309.0,877.0 C314.2,878.7 321.0,881.0 324.0,886.0 C327.0,891.0 327.0,900.3 327.0,907.0 C327.0,913.7 327.0,919.7 324.0,926.0 C321.0,932.3 314.2,940.3 309.0,945.0 C303.8,949.7 299.0,951.5 293.0,954.0 C287.0,956.5 279.7,959.3 273.0,960.0 C266.3,960.7 258.0,960.0 253.0,958.0 C248.0,956.0 245.3,953.0 243.0,948.0 C240.7,943.0 239.0,935.2 239.0,928.0 C239.0,920.8 238.7,912.0 243.0,905.0 Z" fill="#7b7b7b" filter="url(#tex)"/><path d="M221.0,866.0 C225.0,863.0 233.3,861.7 239.0,859.5 C244.7,857.3 251.0,854.9 255.0,853.0 C259.0,851.1 260.1,853.5 263.0,848.0 C265.9,842.5 267.4,824.2 272.5,820.0 C277.6,815.8 288.6,821.0 293.6,823.0 C298.6,825.0 300.7,828.0 302.7,832.0 C304.7,836.0 304.2,842.5 305.7,847.0 C307.2,851.5 311.3,854.0 311.8,859.0 C312.3,864.0 314.8,873.2 308.7,877.3 C302.6,881.4 283.1,879.4 275.5,883.4 C267.9,887.4 267.9,897.5 263.4,901.5 C258.9,905.5 253.3,904.5 248.3,907.5 C243.3,910.5 238.2,918.6 233.2,919.6 C228.2,920.6 221.4,917.6 218.1,913.6 C214.8,909.6 214.1,901.5 213.6,895.4 C213.1,889.3 213.9,882.2 215.1,877.3 C216.3,872.4 217.0,869.0 221.0,866.0 Z" fill="#5b9a2c" filter="url(#tex)"/><g fill="#5b9a2c" filter="url(#tex)"><circle cx="302.7" cy="827.5" r="4.2"/><circle cx="310.3" cy="825.9" r="5.0"/><circle cx="317.9" cy="824.2" r="5.8"/><circle cx="325.4" cy="822.6" r="4.6"/><circle cx="333.0" cy="821.0" r="5.4"/><circle cx="340.5" cy="820.2" r="4.2"/><circle cx="348.0" cy="819.5" r="5.0"/><circle cx="355.5" cy="818.8" r="5.8"/><circle cx="363.0" cy="818.0" r="4.6"/><circle cx="370.1" cy="817.1" r="5.4"/><circle cx="377.2" cy="816.3" r="4.2"/><circle cx="384.3" cy="815.4" r="5.0"/><path d="M302.7,828.5 L333.0,822.0 L363.0,819.0 L384.3,816.4" stroke="#5b9a2c" stroke-width="6.0" fill="none"/></g><path d="M269.0,818.0 C272.7,813.0 290.0,815.5 295.0,820.0 C300.0,824.5 302.7,840.0 299.0,845.0 C295.3,850.0 278.0,854.5 273.0,850.0 C268.0,845.5 265.3,823.0 269.0,818.0 Z" fill="#5b9a2c" filter="url(#tex)"/><path d="M254.7,708.0 C258.1,702.3 265.4,697.4 271.9,695.6 C278.4,693.8 288.1,694.6 293.8,697.2 C299.5,699.8 301.8,707.1 306.0,711.0 C310.2,714.9 315.9,716.9 318.8,720.6 C321.7,724.3 323.1,727.8 323.4,733.0 C323.6,738.2 321.3,745.2 320.3,752.0 C319.3,758.8 317.2,767.0 317.2,773.8 C317.2,780.5 320.0,786.3 320.3,792.5 C320.6,798.7 321.7,806.8 318.8,811.0 C315.9,815.2 307.7,814.9 303.0,817.5 C298.3,820.1 294.2,825.9 290.6,826.9 C287.0,827.9 284.9,821.2 281.3,823.8 C277.7,826.4 273.5,839.4 268.8,842.5 C264.1,845.6 257.2,844.6 253.0,842.5 C248.8,840.4 244.8,835.2 243.8,830.0 C242.8,824.8 245.6,817.8 246.9,811.0 C248.2,804.2 250.3,797.8 251.6,789.0 C252.9,780.2 254.7,767.8 254.7,758.0 C254.7,748.2 251.6,738.3 251.6,730.0 C251.6,721.7 251.3,713.7 254.7,708.0 Z" fill="#eedc22" filter="url(#texl)"/><g filter="url(#tex)"><rect x="549.0" y="811.0" width="48.0" height="139.0" fill="none"/><path d="M561.0,823.0 C563.8,823.5 574.3,822.0 578.0,826.0 C581.7,830.0 581.8,839.5 583.0,847.0 C584.2,854.5 584.8,863.0 585.0,871.0 C585.2,879.0 584.8,887.0 584.0,895.0 C583.2,903.0 582.2,911.8 580.0,919.0 C577.8,926.2 572.5,934.8 571.0,938.0" fill="none" stroke="#6ec9e0" stroke-width="12" stroke-linecap="round" stroke-linejoin="round"/></g><path d="M511.8,838.0 C514.8,834.5 522.9,833.8 529.9,832.0 C536.9,830.2 547.5,827.7 554.0,827.5 C560.5,827.3 565.2,828.1 569.0,831.0 C572.8,833.9 575.2,839.3 577.0,845.0 C578.8,850.7 579.3,858.2 580.0,865.0 C580.7,871.8 581.2,879.0 581.0,886.0 C580.8,893.0 580.5,900.0 579.0,907.0 C577.5,914.0 575.1,922.4 572.0,928.0 C568.9,933.6 564.6,937.2 560.1,940.8 C555.6,944.4 550.0,947.3 545.0,949.8 C540.0,952.3 535.4,954.9 529.9,955.9 C524.4,956.9 515.8,957.4 511.8,955.9 C507.8,954.4 504.7,950.3 505.7,946.8 C506.7,943.3 514.8,938.2 517.8,934.7 C520.8,931.2 522.3,930.1 523.8,925.6 C525.3,921.1 526.9,914.5 526.9,907.5 C526.9,900.5 525.8,889.4 523.8,883.4 C521.8,877.4 516.8,876.4 514.8,871.3 C512.8,866.2 512.3,858.5 511.8,853.0 C511.3,847.5 508.8,841.5 511.8,838.0 Z" fill="#d9bfe2" filter="url(#texd)"/><g fill="#4fb4cc" filter="url(#tex)"><circle cx="502.7" cy="940.8" r="3.6"/><circle cx="509.5" cy="938.9" r="4.2"/><circle cx="516.2" cy="936.9" r="4.8"/><circle cx="523.0" cy="935.0" r="3.9"/><circle cx="532.5" cy="933.4" r="4.5"/><circle cx="542.0" cy="931.7" r="3.6"/><path d="M502.7,941.8 L523.0,936.0 L542.0,932.7" stroke="#4fb4cc" stroke-width="5.0" fill="none"/></g><path d="M443.0,905.0 C447.3,898.0 456.7,890.8 465.0,886.0 C473.3,881.2 485.7,877.5 493.0,876.0 C500.3,874.5 503.8,875.3 509.0,877.0 C514.2,878.7 521.0,881.0 524.0,886.0 C527.0,891.0 527.0,900.3 527.0,907.0 C527.0,913.7 527.0,919.7 524.0,926.0 C521.0,932.3 514.2,940.3 509.0,945.0 C503.8,949.7 499.0,951.5 493.0,954.0 C487.0,956.5 479.7,959.3 473.0,960.0 C466.3,960.7 458.0,960.0 453.0,958.0 C448.0,956.0 445.3,953.0 443.0,948.0 C440.7,943.0 439.0,935.2 439.0,928.0 C439.0,920.8 438.7,912.0 443.0,905.0 Z" fill="#7b7b7b" filter="url(#tex)"/><path d="M421.0,866.0 C425.0,863.0 433.3,861.7 439.0,859.5 C444.7,857.3 451.0,854.9 455.0,853.0 C459.0,851.1 460.1,853.5 463.0,848.0 C465.9,842.5 467.4,824.2 472.5,820.0 C477.6,815.8 488.6,821.0 493.6,823.0 C498.6,825.0 500.7,828.0 502.7,832.0 C504.7,836.0 504.2,842.5 505.7,847.0 C507.2,851.5 511.3,854.0 511.8,859.0 C512.3,864.0 514.8,873.2 508.7,877.3 C502.6,881.4 483.1,879.4 475.5,883.4 C467.9,887.4 467.9,897.5 463.4,901.5 C458.9,905.5 453.3,904.5 448.3,907.5 C443.3,910.5 438.2,918.6 433.2,919.6 C428.2,920.6 421.4,917.6 418.1,913.6 C414.8,909.6 414.1,901.5 413.6,895.4 C413.1,889.3 413.9,882.2 415.1,877.3 C416.3,872.4 417.0,869.0 421.0,866.0 Z" fill="#5b9a2c" filter="url(#tex)"/><g fill="#5b9a2c" filter="url(#tex)"><circle cx="502.7" cy="827.5" r="4.2"/><circle cx="510.3" cy="825.9" r="5.0"/><circle cx="517.9" cy="824.2" r="5.8"/><circle cx="525.4" cy="822.6" r="4.6"/><circle cx="533.0" cy="821.0" r="5.4"/><circle cx="540.5" cy="820.2" r="4.2"/><circle cx="548.0" cy="819.5" r="5.0"/><circle cx="555.5" cy="818.8" r="5.8"/><circle cx="563.0" cy="818.0" r="4.6"/><circle cx="570.1" cy="817.1" r="5.4"/><circle cx="577.2" cy="816.3" r="4.2"/><circle cx="584.3" cy="815.4" r="5.0"/><path d="M502.7,828.5 L533.0,822.0 L563.0,819.0 L584.3,816.4" stroke="#5b9a2c" stroke-width="6.0" fill="none"/></g><path d="M469.0,818.0 C472.7,813.0 490.0,815.5 495.0,820.0 C500.0,824.5 502.7,840.0 499.0,845.0 C495.3,850.0 478.0,854.5 473.0,850.0 C468.0,845.5 465.3,823.0 469.0,818.0 Z" fill="#5b9a2c" filter="url(#tex)"/><path d="M453.0,711.0 C455.3,703.7 459.3,701.6 465.6,698.8 C471.9,696.0 483.3,693.0 490.6,694.0 C497.9,695.0 504.7,700.6 509.4,705.0 C514.1,709.4 516.7,714.4 518.8,720.6 C520.9,726.9 521.9,735.2 521.9,742.5 C521.9,749.8 520.4,757.6 518.8,764.4 C517.2,771.1 512.2,776.2 512.5,783.0 C512.8,789.8 519.2,799.2 520.3,805.0 C521.3,810.8 523.2,814.4 518.8,817.5 C514.4,820.6 501.1,822.2 493.8,823.8 C486.5,825.4 480.2,823.8 475.0,826.9 C469.8,830.0 467.2,841.0 462.5,842.5 C457.8,844.0 450.5,839.6 446.9,836.0 C443.2,832.4 440.6,826.8 440.6,820.6 C440.6,814.4 445.1,806.6 446.9,798.8 C448.7,791.0 450.8,783.2 451.6,773.8 C452.4,764.4 451.4,753.0 451.6,742.5 C451.8,732.0 450.7,718.3 453.0,711.0 Z" fill="#e6a8b6" filter="url(#texl)"/><g filter="url(#tex)"><rect x="684.7" y="816.3" width="111.3" height="165.5" fill="none"/><path d="M765.8,831.3 C768.3,833.6 778.8,838.2 781.0,845.0 C783.2,851.8 781.8,862.5 779.0,872.0 C776.2,881.5 769.9,892.4 764.2,902.3 C758.5,912.2 752.3,922.7 744.8,931.3 C737.3,939.9 726.5,948.0 719.0,953.9 C711.5,959.8 702.9,964.6 699.7,966.8" fill="none" stroke="#6ec9e0" stroke-width="15" stroke-linecap="round" stroke-linejoin="round"/></g><path d="M696.5,850.6 C699.7,843.6 706.1,840.4 712.6,837.7 C719.1,835.0 727.7,835.6 735.2,834.5 C742.7,833.4 751.6,831.0 757.7,831.3 C763.8,831.5 769.1,832.5 772.0,836.0 C774.9,839.5 775.2,846.0 775.0,852.0 C774.8,858.0 773.3,864.3 771.0,872.0 C768.7,879.7 764.3,888.7 761.0,898.0 C757.7,907.3 756.1,920.3 751.3,928.0 C746.5,935.7 739.5,938.8 732.0,944.2 C724.5,949.6 713.1,956.0 706.1,960.3 C699.1,964.6 693.8,970.5 690.0,970.0 C686.2,969.5 682.4,961.8 683.5,957.0 C684.6,952.2 692.7,945.8 696.5,941.0 C700.3,936.2 705.6,933.9 706.1,928.0 C706.6,922.1 701.9,913.5 699.7,905.5 C697.6,897.5 693.7,888.9 693.2,879.7 C692.7,870.6 693.3,857.6 696.5,850.6 Z" fill="#d9bfe2" filter="url(#texd)"/><path d="M783.5,824.8 C786.7,820.8 794.3,820.5 799.7,820.0 C805.1,819.5 808.8,818.6 815.8,821.6 C822.8,824.6 835.1,831.8 841.6,837.7 C848.1,843.6 851.8,850.0 854.5,857.0 C857.2,864.0 858.8,872.7 857.7,879.7 C856.6,886.7 851.8,894.7 848.0,899.0 C844.2,903.3 840.6,905.0 835.2,905.5 C829.8,906.0 821.7,903.9 815.8,902.3 C809.9,900.7 804.0,899.0 799.7,895.8 C795.4,892.6 792.7,888.3 790.0,882.9 C787.3,877.5 785.1,870.0 783.5,863.5 C781.9,857.0 780.3,850.7 780.3,844.2 C780.3,837.8 780.3,828.8 783.5,824.8 Z" fill="#d3b577" filter="url(#tex)"/><path d="M661.0,818.4 C666.4,813.0 682.0,817.3 686.8,821.6 C691.6,825.9 687.3,840.2 690.0,844.2 C692.7,848.2 701.3,842.6 702.9,845.8 C704.5,849.0 700.8,853.0 699.7,863.5 C698.6,874.0 699.7,900.1 696.5,908.7 C693.3,917.3 687.3,914.5 680.3,915.0 C673.3,915.5 661.5,910.9 654.5,912.0 C647.5,913.1 643.8,920.5 638.4,921.6 C633.0,922.7 627.7,921.7 622.3,918.4 C616.9,915.1 609.2,906.9 606.0,902.0 C602.8,897.1 601.4,893.2 603.0,889.0 C604.6,884.8 609.9,880.2 615.8,876.5 C621.7,872.8 631.9,870.6 638.4,866.8 C644.9,863.0 650.7,862.0 654.5,853.9 C658.3,845.8 655.6,823.8 661.0,818.4 Z" fill="#0b0bd8" filter="url(#tex)"/><path d="M644.8,718.4 C646.7,710.3 651.8,705.8 657.7,702.3 C663.6,698.8 672.8,695.2 680.3,697.4 C687.8,699.5 697.0,710.1 702.9,715.2 C708.8,720.3 713.6,721.5 715.8,728.0 C717.9,734.5 716.3,745.8 715.8,753.9 C715.3,762.0 712.9,767.9 712.6,776.5 C712.3,785.1 714.7,796.9 714.2,805.5 C713.7,814.1 714.0,823.2 709.4,828.0 C704.8,832.8 695.9,830.7 686.8,834.5 C677.6,838.3 662.6,850.1 654.5,850.6 C646.4,851.1 641.4,843.6 638.4,837.7 C635.4,831.8 636.3,824.1 636.8,815.0 C637.3,805.9 640.0,793.7 641.6,783.0 C643.2,772.3 646.0,761.4 646.5,750.6 C647.0,739.8 642.9,726.5 644.8,718.4 Z" fill="#8fc98f" filter="url(#texl)"/><g filter="url(#tex)"><rect x="987.0" y="816.0" width="54.0" height="132.0" fill="none"/><path d="M1010.0,829.0 C1012.7,829.7 1023.0,827.3 1026.0,833.0 C1029.0,838.7 1028.3,852.7 1028.0,863.0 C1027.7,873.3 1025.8,885.5 1024.0,895.0 C1022.2,904.5 1021.0,913.3 1017.0,920.0 C1013.0,926.7 1002.8,932.5 1000.0,935.0" fill="none" stroke="#6ec9e0" stroke-width="13" stroke-linecap="round" stroke-linejoin="round"/></g><path d="M946.8,870.0 C949.5,864.1 954.3,850.1 959.7,844.2 C965.1,838.3 971.5,836.6 979.0,834.5 C986.5,832.4 997.8,830.8 1004.8,831.3 C1011.8,831.8 1017.8,832.3 1021.0,837.7 C1024.2,843.1 1023.7,853.8 1024.2,863.5 C1024.7,873.2 1025.8,885.6 1024.2,895.8 C1022.6,906.0 1018.8,917.8 1014.5,924.8 C1010.2,931.8 1004.3,933.9 998.4,937.7 C992.5,941.5 986.0,944.2 979.0,947.4 C972.0,950.6 962.4,956.5 956.5,957.0 C950.6,957.5 944.6,954.4 943.5,950.6 C942.4,946.9 947.3,938.8 950.0,934.5 C952.7,930.2 957.6,930.2 959.7,924.8 C961.9,919.4 964.0,908.2 962.9,902.3 C961.8,896.4 956.4,893.2 953.2,889.4 C950.0,885.6 944.6,882.9 943.5,879.7 C942.4,876.5 944.1,875.9 946.8,870.0 Z" fill="#d9bfe2" filter="url(#texd)"/><g fill="#4fb4cc" filter="url(#tex)"><circle cx="944.0" cy="937.0" r="3.6"/><circle cx="952.0" cy="936.0" r="4.2"/><circle cx="960.0" cy="935.0" r="4.8"/><circle cx="969.0" cy="934.5" r="3.9"/><circle cx="978.0" cy="934.0" r="4.5"/><path d="M944.0,938.0 L960.0,936.0 L978.0,935.0" stroke="#4fb4cc" stroke-width="5.0" fill="none"/></g><path d="M882.3,928.0 C885.0,921.2 890.0,907.3 895.0,900.0 C900.0,892.7 904.5,887.8 912.0,884.0 C919.5,880.2 932.5,877.3 940.0,877.0 C947.5,876.7 953.0,878.2 957.0,882.0 C961.0,885.8 963.2,893.3 964.0,900.0 C964.8,906.7 964.7,915.3 962.0,922.0 C959.3,928.7 953.3,935.3 948.0,940.0 C942.7,944.7 936.7,947.2 930.0,950.0 C923.3,952.8 914.7,956.3 908.0,957.0 C901.3,957.7 894.8,956.7 890.0,954.0 C885.2,951.3 880.3,945.3 879.0,941.0 C877.7,936.7 879.6,934.8 882.3,928.0 Z" fill="#7b7b7b" filter="url(#tex)"/><path d="M866.0,863.5 C869.2,860.2 876.4,858.6 882.3,857.0 C888.2,855.4 896.2,856.0 901.6,853.9 C907.0,851.8 908.6,846.4 914.5,844.2 C920.4,842.1 930.0,837.8 937.0,841.0 C944.0,844.2 953.2,857.0 956.5,863.5 C959.8,870.0 960.3,876.5 956.5,879.7 C952.7,883.0 940.9,881.4 933.9,883.0 C926.9,884.6 920.4,886.2 914.5,889.4 C908.6,892.6 902.1,898.0 898.4,902.3 C894.6,906.6 895.2,913.9 892.0,915.0 C888.8,916.1 883.3,911.9 879.0,908.7 C874.7,905.5 868.7,901.2 866.0,895.8 C863.3,890.4 862.9,881.9 862.9,876.5 C862.9,871.1 862.8,866.8 866.0,863.5 Z" fill="#7a52e2" filter="url(#tex)"/><g fill="#7a52e2" filter="url(#tex)"><circle cx="946.8" cy="831.3" r="4.2"/><circle cx="953.4" cy="830.6" r="5.0"/><circle cx="960.1" cy="830.0" r="5.8"/><circle cx="966.7" cy="829.3" r="4.6"/><circle cx="973.4" cy="828.7" r="5.4"/><circle cx="980.0" cy="828.0" r="4.2"/><circle cx="987.5" cy="827.5" r="5.0"/><circle cx="995.0" cy="827.0" r="5.8"/><circle cx="1002.5" cy="826.5" r="4.6"/><circle cx="1010.0" cy="826.0" r="5.4"/><circle cx="1016.9" cy="825.6" r="4.2"/><circle cx="1023.7" cy="825.2" r="5.0"/><circle cx="1030.6" cy="824.8" r="5.8"/><path d="M946.8,832.3 L980.0,829.0 L1010.0,827.0 L1030.6,825.8" stroke="#7a52e2" stroke-width="6.0" fill="none"/></g><path d="M914.5,818.4 C919.3,814.0 938.1,817.3 943.5,821.6 C948.9,825.9 951.6,839.8 946.8,844.2 C942.0,848.6 919.9,852.3 914.5,848.0 C909.1,843.7 909.7,822.8 914.5,818.4 Z" fill="#7a52e2" filter="url(#tex)"/><path d="M906.5,712.0 C909.5,706.1 915.4,701.4 921.0,699.0 C926.6,696.6 934.4,696.3 940.3,697.4 C946.2,698.5 951.6,702.0 956.5,705.5 C961.4,709.0 966.7,713.6 969.4,718.4 C972.1,723.2 972.6,728.6 972.6,734.5 C972.6,740.4 970.5,747.5 969.4,753.9 C968.3,760.3 967.1,765.5 966.0,773.0 C964.9,780.5 963.8,792.0 963.0,799.0 C962.2,806.0 964.0,811.2 961.3,815.0 C958.6,818.8 951.9,821.6 946.8,821.6 C941.7,821.6 936.0,814.5 930.6,815.0 C925.2,815.5 919.3,822.1 914.5,824.8 C909.7,827.5 904.3,832.9 901.6,831.3 C898.9,829.7 898.1,821.5 898.4,815.0 C898.7,808.5 902.1,800.6 903.2,792.6 C904.3,784.6 904.8,776.5 904.8,766.8 C904.8,757.1 902.9,743.6 903.2,734.5 C903.5,725.4 903.5,717.9 906.5,712.0 Z" fill="#8fe3d3" filter="url(#texl)"/><g filter="url(#tex)"><rect x="1194.0" y="816.0" width="56.2" height="132.0" fill="none"/><path d="M1217.8,829.0 C1220.7,829.7 1231.9,827.3 1235.1,833.0 C1238.4,838.7 1237.6,852.7 1237.3,863.0 C1236.9,873.3 1234.9,885.5 1233.0,895.0 C1231.0,904.5 1229.7,913.3 1225.4,920.0 C1221.1,926.7 1210.1,932.5 1207.0,935.0" fill="none" stroke="#6ec9e0" stroke-width="13" stroke-linecap="round" stroke-linejoin="round"/></g><path d="M1149.6,870.0 C1152.5,864.1 1157.7,850.1 1163.5,844.2 C1169.3,838.3 1176.2,836.6 1184.4,834.5 C1192.5,832.4 1204.7,830.8 1212.2,831.3 C1219.8,831.8 1226.2,832.3 1229.7,837.7 C1233.2,843.1 1232.6,853.8 1233.2,863.5 C1233.8,873.2 1234.9,885.6 1233.2,895.8 C1231.4,906.0 1227.3,917.8 1222.7,924.8 C1218.1,931.8 1211.7,933.9 1205.3,937.7 C1198.9,941.5 1191.9,944.2 1184.4,947.4 C1176.8,950.6 1166.5,956.5 1160.1,957.0 C1153.7,957.5 1147.2,954.4 1146.0,950.6 C1144.8,946.9 1150.1,938.8 1153.0,934.5 C1156.0,930.2 1161.2,930.2 1163.5,924.8 C1165.8,919.4 1168.1,908.2 1167.0,902.3 C1165.8,896.4 1160.0,893.2 1156.5,889.4 C1153.0,885.6 1147.2,882.9 1146.0,879.7 C1144.9,876.5 1146.7,875.9 1149.6,870.0 Z" fill="#d9bfe2" filter="url(#texd)"/><g fill="#4fb4cc" filter="url(#tex)"><circle cx="1146.6" cy="937.0" r="3.6"/><circle cx="1155.2" cy="936.0" r="4.2"/><circle cx="1163.8" cy="935.0" r="4.8"/><circle cx="1173.6" cy="934.5" r="3.9"/><circle cx="1183.3" cy="934.0" r="4.5"/><path d="M1146.6,938.0 L1163.8,936.0 L1183.3,935.0" stroke="#4fb4cc" stroke-width="5.0" fill="none"/></g><path d="M1079.9,928.0 C1082.8,921.2 1088.3,907.3 1093.6,900.0 C1099.0,892.7 1103.9,887.8 1112.0,884.0 C1120.1,880.2 1134.1,877.3 1142.2,877.0 C1150.3,876.7 1156.3,878.2 1160.6,882.0 C1164.9,885.8 1167.3,893.3 1168.2,900.0 C1169.1,906.7 1168.9,915.3 1166.0,922.0 C1163.1,928.7 1156.6,935.3 1150.9,940.0 C1145.1,944.7 1138.6,947.2 1131.4,950.0 C1124.2,952.8 1114.9,956.3 1107.7,957.0 C1100.5,957.7 1093.5,956.7 1088.2,954.0 C1083.0,951.3 1077.7,945.3 1076.4,941.0 C1075.0,936.7 1077.0,934.8 1079.9,928.0 Z" fill="#7b7b7b" filter="url(#tex)"/><path d="M1062.3,863.5 C1065.8,860.2 1073.5,858.6 1079.9,857.0 C1086.3,855.4 1095.0,856.0 1100.8,853.9 C1106.6,851.8 1108.3,846.4 1114.7,844.2 C1121.1,842.1 1131.4,837.8 1139.0,841.0 C1146.6,844.2 1156.5,857.0 1160.1,863.5 C1163.6,870.0 1164.1,876.5 1160.1,879.7 C1156.0,883.0 1143.2,881.4 1135.7,883.0 C1128.1,884.6 1121.1,886.2 1114.7,889.4 C1108.3,892.6 1101.4,898.0 1097.3,902.3 C1093.3,906.6 1093.9,913.9 1090.4,915.0 C1086.9,916.1 1081.0,911.9 1076.4,908.7 C1071.7,905.5 1065.2,901.2 1062.3,895.8 C1059.4,890.4 1059.0,881.9 1059.0,876.5 C1059.0,871.1 1058.8,866.8 1062.3,863.5 Z" fill="#7a52e2" filter="url(#tex)"/><g fill="#7a52e2" filter="url(#tex)"><circle cx="1149.6" cy="831.3" r="4.2"/><circle cx="1156.8" cy="830.6" r="5.0"/><circle cx="1163.9" cy="830.0" r="5.8"/><circle cx="1171.1" cy="829.3" r="4.6"/><circle cx="1178.3" cy="828.7" r="5.4"/><circle cx="1185.4" cy="828.0" r="4.2"/><circle cx="1193.5" cy="827.5" r="5.0"/><circle cx="1201.6" cy="827.0" r="5.8"/><circle cx="1209.7" cy="826.5" r="4.6"/><circle cx="1217.8" cy="826.0" r="5.4"/><circle cx="1225.3" cy="825.6" r="4.2"/><circle cx="1232.7" cy="825.2" r="5.0"/><circle cx="1240.1" cy="824.8" r="5.8"/><path d="M1149.6,832.3 L1185.4,829.0 L1217.8,827.0 L1240.1,825.8" stroke="#7a52e2" stroke-width="6.0" fill="none"/></g><path d="M1114.7,818.4 C1119.9,814.0 1140.2,817.3 1146.0,821.6 C1151.8,825.9 1154.8,839.8 1149.6,844.2 C1144.4,848.6 1120.5,852.3 1114.7,848.0 C1108.9,843.7 1109.5,822.8 1114.7,818.4 Z" fill="#7a52e2" filter="url(#tex)"/><path d="M1093.5,721.6 C1095.7,715.1 1102.3,706.3 1108.0,702.3 C1113.7,698.3 1120.9,697.4 1127.4,697.4 C1133.9,697.4 1140.9,699.3 1146.8,702.3 C1152.7,705.3 1158.7,712.0 1163.0,715.2 C1167.3,718.4 1171.3,716.8 1172.6,721.6 C1173.9,726.4 1171.8,735.6 1171.0,744.2 C1170.2,752.8 1168.0,763.0 1167.7,773.2 C1167.4,783.4 1171.3,797.4 1169.4,805.5 C1167.5,813.6 1162.4,820.0 1156.5,821.6 C1150.6,823.2 1139.8,812.5 1133.9,815.2 C1128.0,817.9 1126.4,833.4 1121.0,837.7 C1115.6,842.0 1105.9,843.1 1101.6,841.0 C1097.3,838.9 1096.3,831.8 1095.0,824.8 C1093.7,817.8 1093.2,808.7 1093.5,799.0 C1093.8,789.3 1096.5,776.5 1096.8,766.8 C1097.0,757.1 1095.5,748.5 1095.0,741.0 C1094.5,733.5 1091.3,728.1 1093.5,721.6 Z" fill="#2f9a26" filter="url(#texl)"/><g filter="url(#tex)"><rect x="1389.0" y="816.0" width="56.2" height="132.0" fill="none"/><path d="M1412.8,829.0 C1415.7,829.7 1426.9,827.3 1430.1,833.0 C1433.4,838.7 1432.6,852.7 1432.3,863.0 C1431.9,873.3 1429.9,885.5 1428.0,895.0 C1426.0,904.5 1424.7,913.3 1420.4,920.0 C1416.1,926.7 1405.1,932.5 1402.0,935.0" fill="none" stroke="#6ec9e0" stroke-width="13" stroke-linecap="round" stroke-linejoin="round"/></g><path d="M1344.6,870.0 C1347.5,864.1 1352.7,850.1 1358.5,844.2 C1364.3,838.3 1371.2,836.6 1379.4,834.5 C1387.5,832.4 1399.7,830.8 1407.2,831.3 C1414.8,831.8 1421.2,832.3 1424.7,837.7 C1428.2,843.1 1427.6,853.8 1428.2,863.5 C1428.8,873.2 1429.9,885.6 1428.2,895.8 C1426.4,906.0 1422.3,917.8 1417.7,924.8 C1413.1,931.8 1406.7,933.9 1400.3,937.7 C1393.9,941.5 1386.9,944.2 1379.4,947.4 C1371.8,950.6 1361.5,956.5 1355.1,957.0 C1348.7,957.5 1342.2,954.4 1341.0,950.6 C1339.8,946.9 1345.1,938.8 1348.0,934.5 C1351.0,930.2 1356.2,930.2 1358.5,924.8 C1360.8,919.4 1363.1,908.2 1362.0,902.3 C1360.8,896.4 1355.0,893.2 1351.5,889.4 C1348.0,885.6 1342.2,882.9 1341.0,879.7 C1339.9,876.5 1341.7,875.9 1344.6,870.0 Z" fill="#d9bfe2" filter="url(#texd)"/><g fill="#4fb4cc" filter="url(#tex)"><circle cx="1341.6" cy="937.0" r="3.6"/><circle cx="1350.2" cy="936.0" r="4.2"/><circle cx="1358.8" cy="935.0" r="4.8"/><circle cx="1368.6" cy="934.5" r="3.9"/><circle cx="1378.3" cy="934.0" r="4.5"/><path d="M1341.6,938.0 L1358.8,936.0 L1378.3,935.0" stroke="#4fb4cc" stroke-width="5.0" fill="none"/></g><path d="M1274.9,928.0 C1277.8,921.2 1283.3,907.3 1288.6,900.0 C1294.0,892.7 1298.9,887.8 1307.0,884.0 C1315.1,880.2 1329.1,877.3 1337.2,877.0 C1345.3,876.7 1351.3,878.2 1355.6,882.0 C1359.9,885.8 1362.3,893.3 1363.2,900.0 C1364.1,906.7 1363.9,915.3 1361.0,922.0 C1358.1,928.7 1351.6,935.3 1345.9,940.0 C1340.1,944.7 1333.6,947.2 1326.4,950.0 C1319.2,952.8 1309.9,956.3 1302.7,957.0 C1295.5,957.7 1288.5,956.7 1283.2,954.0 C1278.0,951.3 1272.7,945.3 1271.4,941.0 C1270.0,936.7 1272.0,934.8 1274.9,928.0 Z" fill="#7b7b7b" filter="url(#tex)"/><path d="M1257.3,863.5 C1260.8,860.2 1268.5,858.6 1274.9,857.0 C1281.3,855.4 1290.0,856.0 1295.8,853.9 C1301.6,851.8 1303.3,846.4 1309.7,844.2 C1316.1,842.1 1326.4,837.8 1334.0,841.0 C1341.6,844.2 1351.5,857.0 1355.1,863.5 C1358.6,870.0 1359.1,876.5 1355.1,879.7 C1351.0,883.0 1338.2,881.4 1330.7,883.0 C1323.1,884.6 1316.1,886.2 1309.7,889.4 C1303.3,892.6 1296.4,898.0 1292.3,902.3 C1288.3,906.6 1288.9,913.9 1285.4,915.0 C1281.9,916.1 1276.0,911.9 1271.4,908.7 C1266.7,905.5 1260.2,901.2 1257.3,895.8 C1254.4,890.4 1254.0,881.9 1254.0,876.5 C1254.0,871.1 1253.8,866.8 1257.3,863.5 Z" fill="#7a52e2" filter="url(#tex)"/><g fill="#7a52e2" filter="url(#tex)"><circle cx="1344.6" cy="831.3" r="4.2"/><circle cx="1351.8" cy="830.6" r="5.0"/><circle cx="1358.9" cy="830.0" r="5.8"/><circle cx="1366.1" cy="829.3" r="4.6"/><circle cx="1373.3" cy="828.7" r="5.4"/><circle cx="1380.4" cy="828.0" r="4.2"/><circle cx="1388.5" cy="827.5" r="5.0"/><circle cx="1396.6" cy="827.0" r="5.8"/><circle cx="1404.7" cy="826.5" r="4.6"/><circle cx="1412.8" cy="826.0" r="5.4"/><circle cx="1420.3" cy="825.6" r="4.2"/><circle cx="1427.7" cy="825.2" r="5.0"/><circle cx="1435.1" cy="824.8" r="5.8"/><path d="M1344.6,832.3 L1380.4,829.0 L1412.8,827.0 L1435.1,825.8" stroke="#7a52e2" stroke-width="6.0" fill="none"/></g><path d="M1309.7,818.4 C1314.9,814.0 1335.2,817.3 1341.0,821.6 C1346.8,825.9 1349.8,839.8 1344.6,844.2 C1339.4,848.6 1315.5,852.3 1309.7,848.0 C1303.9,843.7 1304.5,822.8 1309.7,818.4 Z" fill="#7a52e2" filter="url(#tex)"/><path d="M1285.5,715.2 C1287.1,709.8 1292.0,702.2 1298.4,699.0 C1304.9,695.8 1316.1,694.7 1324.2,695.8 C1332.3,696.9 1339.8,701.7 1346.8,705.5 C1353.8,709.3 1362.2,713.6 1366.0,718.4 C1369.8,723.2 1369.7,727.5 1369.4,734.5 C1369.2,741.5 1365.8,752.2 1364.5,760.3 C1363.2,768.4 1360.8,775.5 1361.3,783.0 C1361.8,790.5 1368.5,799.6 1367.7,805.5 C1366.9,811.4 1362.1,816.8 1356.5,818.4 C1350.9,820.0 1340.9,814.7 1333.9,815.2 C1326.9,815.7 1318.8,817.3 1314.5,821.6 C1310.2,825.9 1311.8,838.3 1308.0,841.0 C1304.2,843.7 1295.2,842.0 1292.0,837.7 C1288.8,833.4 1288.7,824.3 1288.7,815.2 C1288.7,806.1 1291.5,793.8 1292.0,783.0 C1292.5,772.2 1292.5,759.2 1292.0,750.6 C1291.5,742.0 1289.8,737.2 1288.7,731.3 C1287.6,725.4 1283.9,720.6 1285.5,715.2 Z" fill="#e0705e" filter="url(#texl)"/><g filter="url(#tex)"><rect x="1613.0" y="793.0" width="63.0" height="162.0" fill="none"/><path d="M1632.0,812.0 C1635.0,812.8 1646.0,813.7 1650.0,817.0 C1654.0,820.3 1654.8,824.3 1656.0,832.0 C1657.2,839.7 1657.3,852.3 1657.0,863.0 C1656.7,873.7 1656.0,886.3 1654.0,896.0 C1652.0,905.7 1648.3,914.3 1645.0,921.0 C1641.7,927.7 1635.8,933.5 1634.0,936.0" fill="none" stroke="#6ec9e0" stroke-width="19" stroke-linecap="round" stroke-linejoin="round"/></g><path d="M1569.4,844.2 C1570.5,835.1 1578.5,826.4 1585.5,821.6 C1592.5,816.8 1603.2,815.7 1611.3,815.2 C1619.4,814.7 1628.0,814.6 1633.9,818.4 C1639.8,822.1 1644.1,829.1 1646.8,837.7 C1649.5,846.3 1650.0,859.2 1650.0,870.0 C1650.0,880.8 1649.0,892.6 1646.8,902.3 C1644.6,912.0 1641.9,921.0 1637.1,928.0 C1632.2,935.0 1625.2,939.9 1617.7,944.2 C1610.2,948.5 1600.0,951.8 1592.0,953.9 C1584.0,956.0 1574.2,958.6 1569.4,957.0 C1564.6,955.4 1561.9,949.0 1563.0,944.2 C1564.1,939.4 1572.6,935.0 1575.8,928.0 C1579.0,921.0 1581.8,910.9 1582.3,902.3 C1582.8,893.7 1581.2,886.2 1579.0,876.5 C1576.8,866.8 1568.3,853.4 1569.4,844.2 Z" fill="#d9bfe2" filter="url(#texd)"/><g fill="#6c9a1c" filter="url(#tex)"><circle cx="1572.6" cy="821.6" r="4.7"/><circle cx="1579.4" cy="820.2" r="5.5"/><circle cx="1586.3" cy="818.8" r="6.3"/><circle cx="1593.2" cy="817.4" r="5.1"/><circle cx="1600.0" cy="816.0" r="5.9"/><circle cx="1607.5" cy="815.0" r="4.7"/><circle cx="1615.0" cy="814.0" r="5.5"/><circle cx="1622.5" cy="813.0" r="6.3"/><circle cx="1630.0" cy="812.0" r="5.1"/><circle cx="1637.5" cy="811.2" r="5.9"/><circle cx="1645.0" cy="810.4" r="4.7"/><circle cx="1652.5" cy="809.5" r="5.5"/><circle cx="1660.0" cy="808.7" r="6.3"/><path d="M1572.6,822.6 L1600.0,817.0 L1630.0,813.0 L1660.0,809.7" stroke="#6c9a1c" stroke-width="6.6" fill="none"/></g><path d="M1508.0,895.8 C1511.2,888.3 1517.7,881.3 1524.2,876.5 C1530.7,871.7 1539.8,869.0 1546.8,866.8 C1553.8,864.6 1560.6,861.9 1566.0,863.5 C1571.4,865.1 1576.3,870.0 1579.0,876.5 C1581.7,883.0 1582.8,893.7 1582.3,902.3 C1581.8,910.9 1579.6,920.5 1575.8,928.0 C1572.0,935.5 1565.6,943.1 1559.7,947.4 C1553.8,951.7 1546.8,952.8 1540.3,953.9 C1533.8,955.0 1526.4,955.5 1521.0,953.9 C1515.6,952.3 1510.7,949.6 1508.0,944.2 C1505.3,938.8 1504.8,929.7 1504.8,921.6 C1504.8,913.5 1504.8,903.3 1508.0,895.8 Z" fill="#7b7b7b" filter="url(#tex)"/><path d="M1488.7,850.6 C1492.5,847.6 1502.1,847.9 1508.0,845.8 C1513.9,843.6 1520.2,844.0 1524.2,837.7 C1528.2,831.4 1528.0,813.6 1532.0,808.0 C1536.0,802.4 1543.0,804.0 1548.0,804.0 C1553.0,804.0 1559.0,802.4 1562.0,808.0 C1565.0,813.6 1564.8,830.6 1566.0,837.7 C1567.2,844.8 1570.5,845.2 1569.4,850.6 C1568.4,856.0 1565.6,866.8 1559.7,870.0 C1553.8,873.2 1541.0,868.9 1534.0,870.0 C1527.0,871.1 1522.0,872.2 1517.7,876.5 C1513.4,880.8 1510.7,889.4 1508.0,895.8 C1505.3,902.2 1504.8,912.9 1501.6,915.0 C1498.4,917.1 1491.9,913.0 1488.7,908.7 C1485.5,904.4 1482.8,896.9 1482.3,889.4 C1481.8,881.9 1484.4,870.0 1485.5,863.5 C1486.6,857.0 1485.0,853.6 1488.7,850.6 Z" fill="#6c9a1c" filter="url(#tex)"/><path d="M1514.5,712.0 C1515.5,707.4 1517.0,707.8 1524.0,707.0 C1531.0,706.2 1546.8,705.7 1556.5,707.0 C1566.2,708.3 1575.8,711.8 1582.0,715.0 C1588.2,718.2 1591.8,720.6 1593.5,726.5 C1595.2,732.4 1593.1,743.9 1592.0,750.6 C1590.9,757.3 1587.5,759.8 1587.0,766.8 C1586.5,773.8 1589.0,785.1 1588.7,792.6 C1588.5,800.1 1590.3,808.8 1585.5,812.0 C1580.7,815.2 1566.0,810.3 1559.7,812.0 C1553.5,813.7 1552.3,818.3 1548.0,822.0 C1543.7,825.7 1538.0,831.2 1534.0,834.0 C1530.0,836.8 1527.2,840.5 1524.0,839.0 C1520.8,837.5 1516.3,831.5 1514.5,824.8 C1512.7,818.1 1512.5,808.7 1513.0,799.0 C1513.5,789.3 1516.9,777.5 1517.7,766.8 C1518.5,756.0 1518.2,743.6 1517.7,734.5 C1517.2,725.4 1513.5,716.6 1514.5,712.0 Z" fill="#3fcfbb" filter="url(#texl)"/><path d="M1760.0,895.0 C1758.7,900.7 1767.0,911.3 1772.0,918.0 C1777.0,924.7 1783.2,929.8 1790.0,935.0 C1796.8,940.2 1803.0,947.2 1813.0,949.0 C1823.0,950.8 1840.2,949.5 1850.0,946.0 C1859.8,942.5 1868.7,934.8 1872.0,928.0 C1875.3,921.2 1874.5,911.8 1870.0,905.0 C1865.5,898.2 1854.5,890.7 1845.0,887.0 C1835.5,883.3 1821.3,882.0 1813.0,883.0 C1804.7,884.0 1800.5,892.8 1795.0,893.0 C1789.5,893.2 1785.8,883.7 1780.0,884.0 C1774.2,884.3 1761.3,889.3 1760.0,895.0 Z" fill="#7fc6e6" filter="url(#tex)"/><path d="M1729.0,862.0 C1730.2,858.7 1736.2,853.0 1740.0,852.0 C1743.8,851.0 1751.0,853.3 1752.0,856.0 C1753.0,858.7 1749.2,865.3 1746.0,868.0 C1742.8,870.7 1735.8,873.0 1733.0,872.0 C1730.2,871.0 1727.8,865.3 1729.0,862.0 Z" fill="#7fc6e6" filter="url(#tex)"/><path d="M1729.0,878.0 C1732.2,870.9 1739.4,861.3 1744.5,855.0 C1749.6,848.7 1754.7,841.2 1759.8,840.0 C1764.9,838.8 1769.2,842.4 1775.0,847.5 C1780.8,852.6 1789.8,862.8 1794.3,870.5 C1798.8,878.2 1803.3,886.5 1802.0,893.5 C1800.7,900.5 1792.3,907.6 1786.6,912.7 C1780.8,917.8 1774.5,921.5 1767.5,924.0 C1760.5,926.5 1750.9,929.2 1744.5,928.0 C1738.1,926.8 1732.2,921.6 1729.0,916.5 C1725.8,911.4 1725.3,903.8 1725.3,897.4 C1725.3,891.0 1725.8,885.1 1729.0,878.0 Z" fill="#c4857f" filter="url(#tex)"/><path d="M1813.4,859.0 C1815.3,852.6 1821.2,843.8 1825.0,840.0 C1828.8,836.2 1830.0,834.8 1836.4,836.0 C1842.8,837.2 1856.3,843.0 1863.3,847.5 C1870.3,852.0 1875.4,856.5 1878.6,862.9 C1881.8,869.3 1883.0,878.9 1882.4,885.9 C1881.8,892.9 1878.0,900.5 1874.8,905.0 C1871.6,909.5 1867.8,913.4 1863.3,912.7 C1858.8,912.0 1853.8,905.5 1848.0,901.0 C1842.2,896.5 1834.6,889.7 1828.8,885.9 C1823.0,882.1 1816.0,882.7 1813.4,878.2 C1810.8,873.7 1811.5,865.4 1813.4,859.0 Z" fill="#c4857f" filter="url(#tex)"/><path d="M1767.5,778.6 C1772.6,775.4 1780.2,772.9 1786.6,774.8 C1793.0,776.7 1800.7,784.3 1805.8,790.0 C1810.9,795.7 1814.1,803.4 1817.3,809.2 C1820.5,815.0 1824.4,818.2 1825.0,824.6 C1825.6,831.0 1823.6,841.1 1821.0,847.5 C1818.4,853.9 1814.7,859.1 1809.6,862.9 C1804.5,866.7 1796.3,871.1 1790.5,870.5 C1784.7,869.9 1779.5,864.1 1775.0,859.0 C1770.5,853.9 1768.0,845.6 1763.6,839.9 C1759.1,834.2 1751.5,830.4 1748.3,824.6 C1745.1,818.9 1743.2,810.5 1744.5,805.4 C1745.8,800.3 1752.2,798.5 1756.0,794.0 C1759.8,789.5 1762.4,781.8 1767.5,778.6 Z" fill="#7b7b7b" filter="url(#tex)"/><path d="M1892.0,713.4 C1894.5,709.2 1903.8,708.0 1909.2,707.7 C1914.6,707.4 1918.2,710.5 1924.6,711.5 C1931.0,712.5 1939.8,712.1 1947.5,713.4 C1955.2,714.7 1964.1,716.6 1970.5,719.2 C1976.9,721.8 1983.0,724.0 1985.9,728.8 C1988.8,733.6 1988.5,741.0 1987.8,748.0 C1987.1,755.0 1982.6,762.1 1982.0,771.0 C1981.4,779.9 1984.7,792.0 1984.0,801.6 C1983.3,811.2 1982.8,823.3 1978.0,828.4 C1973.2,833.5 1962.0,832.2 1955.0,832.2 C1948.0,832.2 1939.8,825.9 1936.0,828.4 C1932.2,830.9 1934.1,839.2 1932.2,847.5 C1930.3,855.8 1926.5,869.2 1924.6,878.2 C1922.7,887.2 1922.0,893.5 1920.7,901.2 C1919.4,908.9 1920.2,918.5 1917.0,924.2 C1913.8,930.0 1907.4,934.4 1901.6,935.7 C1895.8,937.0 1887.5,935.0 1882.4,931.8 C1877.3,928.6 1872.3,922.9 1871.0,916.5 C1869.7,910.1 1872.3,900.5 1874.8,893.5 C1877.3,886.5 1882.4,880.1 1886.2,874.4 C1890.0,868.6 1895.1,866.0 1897.7,859.0 C1900.3,852.0 1900.3,843.7 1901.6,832.2 C1902.9,820.7 1905.4,802.8 1905.4,790.0 C1905.4,777.2 1903.5,765.2 1901.6,755.6 C1899.7,746.0 1895.6,739.6 1894.0,732.6 C1892.4,725.6 1889.5,717.5 1892.0,713.4 Z" fill="#8655ec" filter="url(#texl)"/><circle cx="1951.4" cy="723" r="5.5" fill="#2a9a2a"/><line x1="1897.7" y1="697.5" x2="1944.0" y2="716.0" stroke="#222" stroke-width="1.2" /><text x="286.0" y="691.4" font-size="20" text-anchor="middle" fill="#111" font-weight="normal" >GPR4-Gs</text><text x="741.6" y="691.0" font-size="20" text-anchor="middle" fill="#111" font-weight="normal" >GPR4-G13</text><text x="1139.6" y="692.0" font-size="20" text-anchor="middle" fill="#111" font-weight="normal" >GPR4-Gq</text><text x="1537.0" y="695.0" font-size="20" text-anchor="middle" fill="#111" font-weight="normal" >GPR4-Gs</text><text x="119.8" y="779.9" font-size="12" font-weight="bold" fill="#e6a52a">pH7.5</text><text x="153.2" y="773.4" font-size="20" font-weight="bold" fill="#e6a52a">GPR4</text><text x="318.0" y="780.9" font-size="12" font-weight="bold" fill="#c9c436">pH6.8</text><text x="351.4" y="774.4" font-size="20" font-weight="bold" fill="#c9c436">GPR4</text><text x="518.0" y="780.3" font-size="12" font-weight="bold" fill="#e6a3b0">pH6.0</text><text x="551.4" y="773.8" font-size="20" font-weight="bold" fill="#e6a3b0">GPR4</text><text x="738.4" y="781.3" font-size="12" font-weight="bold" fill="#8cc68c">pH6.8</text><text x="771.8" y="774.8" font-size="20" font-weight="bold" fill="#8cc68c">GPR4</text><text x="967.7" y="782.3" font-size="12" font-weight="bold" fill="#83dbe8">pH6.8</text><text x="1001.1" y="775.8" font-size="20" font-weight="bold" fill="#83dbe8">GPR4</text><text x="1167.7" y="780.4" font-size="12" font-weight="bold" fill="#2d9a25">pH7.5</text><text x="1201.1" y="773.9" font-size="20" font-weight="bold" fill="#2d9a25">GPR4</text><text x="1365.5" y="780.4" font-size="12" font-weight="bold" fill="#e57a69">pH7.5</text><text x="1398.9" y="773.9" font-size="20" font-weight="bold" fill="#e57a69">GPR4</text><text x="1603.4" y="780.3" font-size="12" font-weight="bold" fill="#52dac7">pH8.0</text><text x="1636.8" y="773.8" font-size="20" font-weight="bold" fill="#52dac7">GPR4</text><text x="12.9" y="849.6" font-size="20.5" fill="#6aa53a">Gα<tspan font-size="12.5" dy="7">s</tspan></text><text x="212.5" y="848.8" font-size="20.5" fill="#6aa53a">Gα<tspan font-size="12.5" dy="7">s</tspan></text><text x="415.6" y="845.0" font-size="20.5" fill="#6aa53a">Gα<tspan font-size="12.5" dy="7">s</tspan></text><text x="599.7" y="850.6" font-size="20.5" fill="#1a1ad0">Gα<tspan font-size="12.5" dy="7">13</tspan></text><text x="864.5" y="850.6" font-size="20.5" fill="#6d4cd0">Gα<tspan font-size="12.5" dy="7">q</tspan></text><text x="1059.7" y="850.6" font-size="20.5" fill="#6d4cd0">Gα<tspan font-size="12.5" dy="7">q</tspan></text><text x="1263.0" y="849.0" font-size="20.5" fill="#6d4cd0">Gα<tspan font-size="12.5" dy="7">q</tspan></text><text x="1451.6" y="849.0" font-size="20.5" fill="#6f9a26">Gα<tspan font-size="12.5" dy="7">s</tspan></text><text x="27.2" y="983.0" font-size="20.5" text-anchor="start" fill="#858585" font-weight="normal" >Nb35</text><text x="226.5" y="983.0" font-size="20.5" text-anchor="start" fill="#858585" font-weight="normal" >Nb35</text><text x="429.7" y="981.6" font-size="20.5" text-anchor="start" fill="#858585" font-weight="normal" >Nb35</text><text x="888.7" y="979.7" font-size="20.5" text-anchor="start" fill="#858585" font-weight="normal" >Nb35</text><text x="1085.5" y="981.0" font-size="20.5" text-anchor="start" fill="#858585" font-weight="normal" >Nb35</text><text x="1283.9" y="981.0" font-size="20.5" text-anchor="start" fill="#858585" font-weight="normal" >Nb35</text><text x="1492.0" y="981.0" font-size="20.5" text-anchor="start" fill="#858585" font-weight="normal" >Nb35</text><text x="130.0" y="972.5" font-size="20.5" text-anchor="start" fill="#a995b3" font-weight="normal" >Gβ</text><text x="329.7" y="975.0" font-size="20.5" text-anchor="start" fill="#a995b3" font-weight="normal" >Gβ</text><text x="525.0" y="977.0" font-size="20.5" text-anchor="start" fill="#a995b3" font-weight="normal" >Gβ</text><text x="651.0" y="976.5" font-size="20.5" text-anchor="start" fill="#a995b3" font-weight="normal" >Gβ</text><text x="966.0" y="981.0" font-size="20.5" text-anchor="start" fill="#a995b3" font-weight="normal" >Gβ</text><text x="1169.0" y="981.0" font-size="20.5" text-anchor="start" fill="#a995b3" font-weight="normal" >Gβ</text><text x="1375.8" y="981.0" font-size="20.5" text-anchor="start" fill="#a995b3" font-weight="normal" >Gβ</text><text x="1585.5" y="981.0" font-size="20.5" text-anchor="start" fill="#a995b3" font-weight="normal" >Gβ</text><text x="179.8" y="943.8" font-size="20.5" text-anchor="start" fill="#7fd3ea" font-weight="normal" >Gγ</text><text x="378.0" y="947.0" font-size="20.5" text-anchor="start" fill="#7fd3ea" font-weight="normal" >Gγ</text><text x="570.0" y="948.8" font-size="20.5" text-anchor="start" fill="#7fd3ea" font-weight="normal" >Gγ</text><text x="741.6" y="962.0" font-size="20.5" text-anchor="start" fill="#7fd3ea" font-weight="normal" >Gγ</text><text x="1021.0" y="953.9" font-size="20.5" text-anchor="start" fill="#7fd3ea" font-weight="normal" >Gγ</text><text x="1217.7" y="955.5" font-size="20.5" text-anchor="start" fill="#7fd3ea" font-weight="normal" >Gγ</text><text x="1419.0" y="960.0" font-size="20.5" text-anchor="start" fill="#7fd3ea" font-weight="normal" >Gγ</text><text x="1627.4" y="960.0" font-size="20.5" text-anchor="start" fill="#7fd3ea" font-weight="normal" >Gγ</text><text x="791.6" y="928.0" font-size="20.5" text-anchor="start" fill="#c9a766" font-weight="normal" >scFv16</text><text x="1781.0" y="705.0" font-size="20.5" text-anchor="start" fill="#2f9b30" font-weight="normal" >NE52-QQ57</text><text x="1736.8" y="761.3" font-size="20.5" text-anchor="start" fill="#8a8a8a" font-weight="normal" >Anti-Fab Nb</text><text x="1846.0" y="784.0" font-size="20.5" text-anchor="start" fill="#8655ec" font-weight="normal" >GPR4</text><text x="1761.7" y="974.7" font-size="20.5" text-anchor="start" fill="#e3937f" font-weight="normal" >Anti-Bril Fab</text></svg></body></html>
